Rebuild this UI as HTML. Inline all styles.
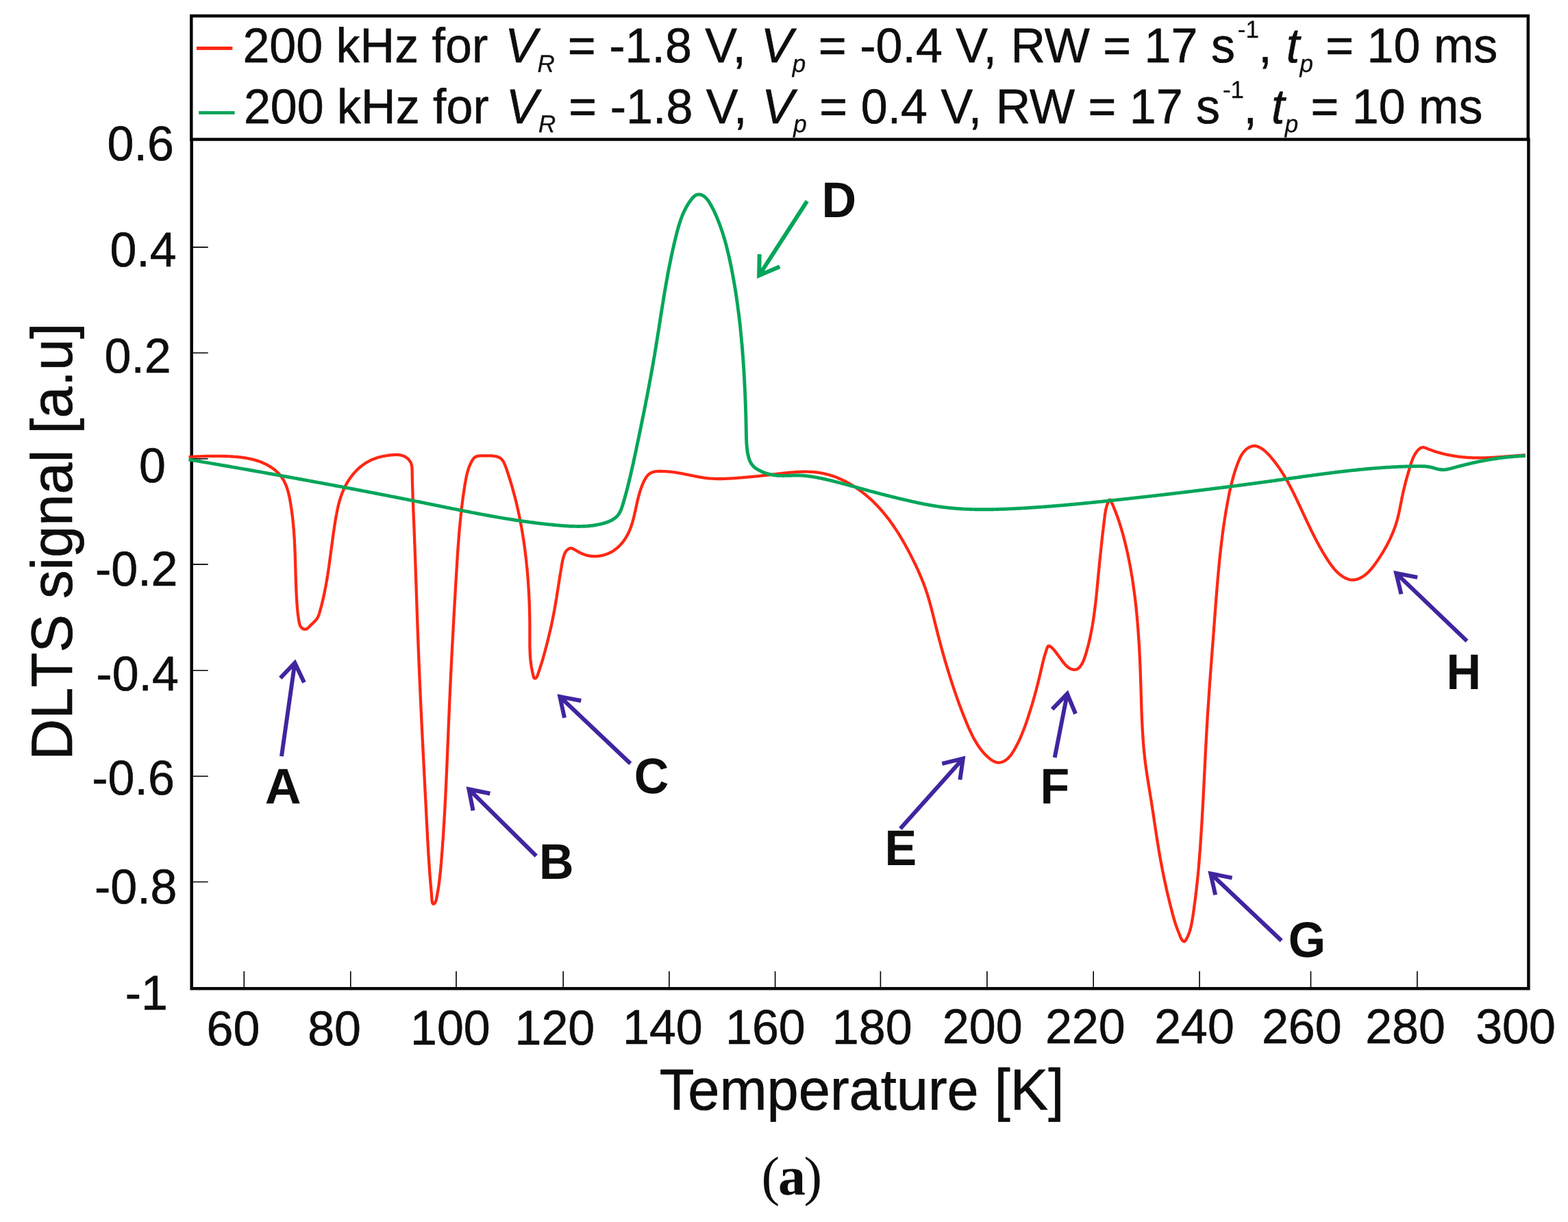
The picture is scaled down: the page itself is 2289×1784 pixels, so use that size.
<!DOCTYPE html>
<html lang="en"><head><meta charset="utf-8"><title>DLTS signal vs temperature</title>
<style>html,body{margin:0;padding:0;background:#fff}body{width:2289px;height:1784px;overflow:hidden}svg{display:block}text{font-kerning:normal;white-space:pre}</style></head><body>
<svg width="2289" height="1784" viewBox="0 0 2289 1784" font-family="'Liberation Sans', sans-serif" text-rendering="geometricPrecision">
<rect x="0" y="0" width="2289" height="1784" fill="#ffffff"/>
<path d="M356.3 1418.0V1443.2M511.8 1418.0V1443.2M666.0 1418.0V1443.2M822.2 1418.0V1443.2M976.9 1418.0V1443.2M1131.6 1418.0V1443.2M1285.4 1418.0V1443.2M1440.9 1418.0V1443.2M1596.2 1418.0V1443.2M1751.1 1418.0V1443.2M1913.5 1418.0V1443.2M2068.9 1418.0V1443.2M279.7 360.9H303.7M279.7 515.2H303.7M279.7 669.7H303.7M279.7 823.9H303.7M279.7 978.7H303.7M279.7 1133.3H303.7M279.7 1287.5H303.7" stroke="#000" stroke-width="1.6" fill="none"/>
<rect x="279.7" y="203.5" width="1951.7" height="1239.7" fill="none" stroke="#050505" stroke-width="4.5"/>
<path d="M279.3 203.5V23.3H2230.8V203.5" fill="none" stroke="#050505" stroke-width="4.5" stroke-linecap="square"/>
<path d="M275.6 667.1 L277.1 667.0 L278.6 666.9 L280.1 666.9 L281.6 666.8 L283.1 666.7 L284.6 666.6 L286.1 666.5 L287.6 666.5 L289.1 666.4 L290.6 666.3 L292.1 666.3 L293.6 666.2 L295.1 666.2 L296.6 666.1 L298.1 666.1 L299.6 666.0 L301.1 666.0 L302.6 665.9 L304.1 665.9 L305.6 665.9 L307.1 665.8 L308.6 665.8 L310.1 665.8 L311.6 665.8 L313.1 665.8 L314.6 665.8 L316.1 665.8 L317.6 665.8 L319.1 665.8 L320.5 665.8 L322.0 665.9 L323.5 665.9 L325.0 665.9 L326.5 666.0 L328.0 666.0 L329.5 666.0 L331.0 666.1 L332.5 666.2 L334.0 666.2 L335.5 666.3 L337.0 666.4 L338.5 666.5 L340.0 666.6 L341.5 666.7 L343.0 666.8 L344.5 666.9 L346.0 667.0 L347.5 667.2 L349.0 667.3 L350.5 667.5 L352.0 667.7 L353.5 667.9 L355.0 668.1 L356.5 668.3 L358.0 668.5 L359.4 668.7 L360.9 669.0 L362.4 669.3 L363.9 669.6 L365.3 669.9 L366.8 670.2 L368.3 670.6 L369.7 670.9 L371.2 671.3 L372.6 671.7 L374.0 672.1 L375.5 672.6 L376.9 673.1 L378.3 673.5 L379.7 674.1 L381.1 674.6 L382.5 675.2 L383.9 675.8 L385.3 676.4 L386.7 677.0 L388.0 677.7 L389.4 678.4 L390.7 679.1 L392.0 679.8 L393.3 680.6 L394.6 681.4 L395.9 682.2 L397.1 683.0 L398.4 683.9 L399.6 684.8 L400.8 685.7 L401.9 686.7 L403.0 687.6 L404.1 688.6 L405.2 689.7 L406.3 690.7 L407.3 691.8 L408.3 692.9 L409.2 694.0 L410.1 695.1 L411.0 696.3 L411.8 697.5 L412.6 698.7 L413.4 700.0 L414.1 701.3 L414.8 702.6 L415.5 703.9 L416.1 705.2 L416.7 706.6 L417.3 707.9 L417.9 709.3 L418.4 710.7 L418.9 712.1 L419.3 713.6 L419.8 715.0 L420.2 716.4 L420.6 717.9 L421.0 719.4 L421.4 720.9 L421.7 722.4 L422.1 723.8 L422.4 725.3 L422.7 726.9 L423.0 728.4 L423.3 729.9 L423.5 731.4 L423.8 732.9 L424.1 734.4 L424.3 735.9 L424.6 737.4 L424.8 738.9 L425.0 740.4 L425.3 741.9 L425.5 743.4 L425.7 744.9 L425.9 746.4 L426.1 747.9 L426.3 749.4 L426.5 750.9 L426.7 752.4 L426.9 753.8 L427.0 755.3 L427.2 756.8 L427.4 758.3 L427.5 759.8 L427.7 761.3 L427.8 762.7 L428.0 764.2 L428.1 765.7 L428.3 767.2 L428.4 768.7 L428.5 770.1 L428.6 771.6 L428.8 773.1 L428.9 774.6 L429.0 776.1 L429.1 777.5 L429.2 779.0 L429.3 780.5 L429.4 782.0 L429.5 783.5 L429.6 785.0 L429.7 786.4 L429.8 787.9 L429.9 789.4 L429.9 790.9 L430.0 792.4 L430.1 793.9 L430.2 795.4 L430.2 796.8 L430.3 798.3 L430.4 799.8 L430.4 801.3 L430.5 802.8 L430.6 804.3 L430.6 805.8 L430.7 807.3 L430.7 808.8 L430.8 810.3 L430.8 811.8 L430.9 813.3 L430.9 814.8 L431.0 816.3 L431.0 817.9 L431.1 819.4 L431.1 820.9 L431.2 822.4 L431.2 823.9 L431.2 825.4 L431.3 826.9 L431.3 828.4 L431.4 829.9 L431.4 831.4 L431.5 832.9 L431.5 834.5 L431.5 836.0 L431.6 837.5 L431.6 839.0 L431.7 840.5 L431.7 842.0 L431.8 843.5 L431.8 845.0 L431.9 846.5 L431.9 848.0 L432.0 849.5 L432.0 851.1 L432.1 852.6 L432.1 854.1 L432.2 855.6 L432.2 857.1 L432.3 858.6 L432.4 860.1 L432.4 861.6 L432.5 863.1 L432.6 864.6 L432.6 866.1 L432.7 867.5 L432.8 869.0 L432.9 870.5 L433.0 872.0 L433.0 873.5 L433.1 875.0 L433.2 876.5 L433.3 878.0 L433.4 879.4 L433.5 880.9 L433.6 882.4 L433.7 883.9 L433.8 885.3 L434.0 886.8 L434.1 888.3 L434.2 889.7 L434.4 891.2 L434.5 892.7 L434.7 894.2 L434.8 895.7 L435.0 897.2 L435.2 898.7 L435.4 900.2 L435.6 901.7 L435.8 903.2 L436.1 904.8 L436.3 906.3 L436.6 907.9 L436.9 909.4 L437.3 910.9 L437.7 912.4 L438.3 913.7 L439.0 915.0 L439.9 916.1 L440.9 917.1 L442.1 917.9 L443.4 918.4 L444.7 918.7 L446.0 918.7 L447.3 918.3 L448.5 917.6 L449.7 916.6 L450.9 915.5 L452.0 914.4 L453.1 913.2 L454.3 912.0 L455.4 910.9 L456.6 909.8 L457.7 908.8 L458.7 907.8 L459.8 906.7 L460.7 905.7 L461.7 904.6 L462.5 903.4 L463.3 902.2 L464.0 900.9 L464.6 899.6 L465.2 898.3 L465.7 896.9 L466.2 895.5 L466.6 894.0 L467.0 892.6 L467.4 891.1 L467.8 889.6 L468.2 888.2 L468.6 886.7 L469.0 885.2 L469.4 883.8 L469.8 882.3 L470.1 880.8 L470.5 879.4 L470.8 877.9 L471.2 876.4 L471.5 875.0 L471.9 873.5 L472.2 872.0 L472.5 870.5 L472.8 869.1 L473.1 867.6 L473.5 866.1 L473.8 864.7 L474.1 863.2 L474.3 861.7 L474.6 860.2 L474.9 858.8 L475.2 857.3 L475.5 855.8 L475.8 854.4 L476.0 852.9 L476.3 851.4 L476.5 849.9 L476.8 848.5 L477.1 847.0 L477.3 845.5 L477.6 844.0 L477.8 842.6 L478.0 841.1 L478.3 839.6 L478.5 838.1 L478.7 836.7 L479.0 835.2 L479.2 833.7 L479.4 832.2 L479.6 830.7 L479.8 829.3 L480.1 827.8 L480.3 826.3 L480.5 824.8 L480.7 823.3 L480.9 821.8 L481.1 820.4 L481.3 818.9 L481.5 817.4 L481.7 815.9 L481.9 814.4 L482.1 812.9 L482.3 811.5 L482.5 810.0 L482.7 808.5 L482.9 807.0 L483.1 805.5 L483.3 804.0 L483.5 802.5 L483.7 801.1 L483.9 799.6 L484.1 798.1 L484.3 796.6 L484.5 795.1 L484.7 793.6 L484.9 792.1 L485.1 790.7 L485.3 789.2 L485.5 787.7 L485.7 786.2 L485.9 784.7 L486.1 783.2 L486.3 781.7 L486.5 780.2 L486.7 778.8 L486.9 777.3 L487.1 775.8 L487.3 774.3 L487.6 772.8 L487.8 771.3 L488.0 769.8 L488.2 768.4 L488.5 766.9 L488.7 765.4 L488.9 763.9 L489.2 762.4 L489.4 760.9 L489.7 759.5 L489.9 758.0 L490.2 756.5 L490.4 755.0 L490.7 753.5 L491.0 752.0 L491.3 750.6 L491.5 749.1 L491.8 747.6 L492.1 746.1 L492.4 744.7 L492.7 743.2 L493.1 741.7 L493.4 740.2 L493.7 738.8 L494.1 737.3 L494.5 735.9 L494.8 734.4 L495.2 733.0 L495.6 731.5 L496.0 730.1 L496.5 728.7 L496.9 727.2 L497.4 725.8 L497.9 724.4 L498.3 723.0 L498.9 721.6 L499.4 720.2 L499.9 718.8 L500.5 717.4 L501.1 716.0 L501.7 714.7 L502.3 713.3 L502.9 711.9 L503.6 710.6 L504.3 709.3 L505.0 707.9 L505.7 706.6 L506.4 705.3 L507.2 704.0 L508.0 702.7 L508.8 701.4 L509.6 700.2 L510.5 698.9 L511.3 697.7 L512.2 696.5 L513.1 695.3 L514.1 694.1 L515.0 692.9 L516.0 691.8 L516.9 690.6 L517.9 689.5 L519.0 688.4 L520.0 687.3 L521.0 686.3 L522.1 685.2 L523.2 684.2 L524.3 683.2 L525.4 682.2 L526.6 681.3 L527.8 680.3 L528.9 679.4 L530.1 678.5 L531.3 677.7 L532.6 676.8 L533.8 676.0 L535.1 675.2 L536.4 674.5 L537.6 673.8 L539.0 673.1 L540.3 672.4 L541.6 671.7 L543.0 671.1 L544.4 670.5 L545.8 670.0 L547.2 669.5 L548.6 669.0 L550.0 668.5 L551.4 668.0 L552.9 667.6 L554.4 667.2 L555.8 666.9 L557.3 666.5 L558.8 666.2 L560.3 665.9 L561.8 665.6 L563.3 665.4 L564.8 665.1 L566.3 664.9 L567.8 664.7 L569.3 664.5 L570.8 664.4 L572.3 664.2 L573.8 664.1 L575.3 664.0 L576.8 663.9 L578.3 663.9 L579.8 663.9 L581.3 664.0 L582.7 664.2 L584.2 664.4 L585.6 664.7 L587.0 665.0 L588.4 665.5 L589.7 666.0 L591.0 666.7 L592.3 667.4 L593.6 668.3 L594.8 669.2 L596.0 670.3 L597.1 671.4 L598.0 672.7 L598.9 673.9 L599.6 675.2 L600.2 676.6 L600.6 678.0 L601.0 679.4 L601.2 680.9 L601.4 682.3 L601.5 683.8 L601.6 685.3 L601.6 686.8 L601.7 688.3 L601.7 689.8 L601.7 691.3 L601.7 692.8 L601.8 694.3 L601.8 695.8 L601.8 697.3 L601.9 698.9 L601.9 700.4 L601.9 701.9 L602.0 703.4 L602.0 704.9 L602.0 706.4 L602.1 707.9 L602.1 709.4 L602.2 710.9 L602.2 712.4 L602.3 713.9 L602.3 715.4 L602.4 716.9 L602.4 718.4 L602.5 719.9 L602.5 721.4 L602.6 722.9 L602.6 724.4 L602.7 725.9 L602.7 727.4 L602.8 728.9 L602.8 730.4 L602.9 731.9 L603.0 733.4 L603.0 734.9 L603.1 736.4 L603.1 737.9 L603.2 739.4 L603.3 740.9 L603.3 742.4 L603.4 743.9 L603.4 745.4 L603.5 746.9 L603.6 748.4 L603.6 749.9 L603.7 751.4 L603.8 752.8 L603.8 754.3 L603.9 755.8 L603.9 757.3 L604.0 758.8 L604.1 760.3 L604.1 761.8 L604.2 763.3 L604.2 764.8 L604.3 766.3 L604.4 767.8 L604.4 769.3 L604.5 770.8 L604.5 772.3 L604.6 773.8 L604.7 775.3 L604.7 776.8 L604.8 778.3 L604.8 779.8 L604.9 781.3 L605.0 782.8 L605.0 784.3 L605.1 785.8 L605.1 787.3 L605.2 788.8 L605.2 790.3 L605.3 791.8 L605.3 793.3 L605.4 794.8 L605.5 796.3 L605.5 797.8 L605.6 799.3 L605.6 800.8 L605.7 802.3 L605.7 803.8 L605.8 805.3 L605.8 806.8 L605.9 808.3 L605.9 809.8 L606.0 811.3 L606.1 812.8 L606.1 814.3 L606.2 815.8 L606.2 817.3 L606.3 818.8 L606.3 820.3 L606.4 821.8 L606.4 823.3 L606.5 824.8 L606.5 826.3 L606.6 827.8 L606.6 829.3 L606.7 830.8 L606.7 832.3 L606.8 833.8 L606.8 835.3 L606.9 836.8 L606.9 838.3 L607.0 839.8 L607.0 841.3 L607.1 842.8 L607.1 844.3 L607.2 845.8 L607.2 847.3 L607.3 848.8 L607.3 850.3 L607.4 851.8 L607.5 853.3 L607.5 854.8 L607.6 856.3 L607.6 857.8 L607.7 859.3 L607.7 860.8 L607.8 862.3 L607.8 863.8 L607.9 865.3 L607.9 866.8 L608.0 868.3 L608.0 869.8 L608.1 871.3 L608.1 872.8 L608.2 874.3 L608.2 875.8 L608.3 877.3 L608.3 878.8 L608.4 880.3 L608.4 881.8 L608.5 883.3 L608.5 884.8 L608.6 886.3 L608.6 887.8 L608.7 889.3 L608.7 890.8 L608.8 892.3 L608.8 893.8 L608.9 895.3 L608.9 896.8 L609.0 898.3 L609.0 899.8 L609.1 901.3 L609.1 902.8 L609.2 904.3 L609.3 905.8 L609.3 907.3 L609.4 908.8 L609.4 910.3 L609.5 911.7 L609.5 913.2 L609.6 914.7 L609.6 916.2 L609.7 917.7 L609.7 919.2 L609.8 920.7 L609.8 922.2 L609.9 923.7 L610.0 925.2 L610.0 926.7 L610.1 928.2 L610.1 929.7 L610.2 931.2 L610.2 932.7 L610.3 934.2 L610.3 935.7 L610.4 937.2 L610.5 938.7 L610.5 940.2 L610.6 941.7 L610.6 943.2 L610.7 944.7 L610.7 946.2 L610.8 947.7 L610.9 949.2 L610.9 950.7 L611.0 952.2 L611.0 953.7 L611.1 955.2 L611.2 956.7 L611.2 958.2 L611.3 959.7 L611.3 961.2 L611.4 962.7 L611.5 964.2 L611.5 965.7 L611.6 967.2 L611.6 968.7 L611.7 970.2 L611.8 971.7 L611.8 973.2 L611.9 974.7 L612.0 976.2 L612.0 977.7 L612.1 979.2 L612.2 980.7 L612.2 982.2 L612.3 983.7 L612.3 985.2 L612.4 986.7 L612.5 988.2 L612.5 989.7 L612.6 991.2 L612.7 992.7 L612.7 994.2 L612.8 995.7 L612.9 997.2 L612.9 998.7 L613.0 1000.2 L613.1 1001.7 L613.1 1003.2 L613.2 1004.7 L613.3 1006.2 L613.3 1007.7 L613.4 1009.2 L613.5 1010.7 L613.5 1012.2 L613.6 1013.6 L613.7 1015.1 L613.7 1016.6 L613.8 1018.1 L613.9 1019.6 L613.9 1021.1 L614.0 1022.6 L614.1 1024.1 L614.2 1025.6 L614.2 1027.1 L614.3 1028.6 L614.4 1030.1 L614.4 1031.6 L614.5 1033.1 L614.6 1034.6 L614.6 1036.1 L614.7 1037.6 L614.8 1039.1 L614.9 1040.6 L614.9 1042.1 L615.0 1043.6 L615.1 1045.1 L615.1 1046.6 L615.2 1048.1 L615.3 1049.6 L615.4 1051.1 L615.4 1052.6 L615.5 1054.1 L615.6 1055.6 L615.7 1057.1 L615.7 1058.6 L615.8 1060.1 L615.9 1061.6 L615.9 1063.1 L616.0 1064.6 L616.1 1066.1 L616.2 1067.6 L616.2 1069.1 L616.3 1070.6 L616.4 1072.1 L616.5 1073.5 L616.5 1075.0 L616.6 1076.5 L616.7 1078.0 L616.8 1079.5 L616.8 1081.0 L616.9 1082.5 L617.0 1084.0 L617.1 1085.5 L617.1 1087.0 L617.2 1088.5 L617.3 1090.0 L617.4 1091.5 L617.4 1093.0 L617.5 1094.5 L617.6 1096.0 L617.7 1097.5 L617.7 1099.0 L617.8 1100.5 L617.9 1102.0 L618.0 1103.5 L618.0 1105.0 L618.1 1106.5 L618.2 1108.0 L618.3 1109.5 L618.3 1111.0 L618.4 1112.5 L618.5 1114.0 L618.6 1115.5 L618.7 1117.0 L618.7 1118.5 L618.8 1120.0 L618.9 1121.5 L619.0 1123.0 L619.0 1124.5 L619.1 1126.0 L619.2 1127.5 L619.3 1129.0 L619.3 1130.5 L619.4 1132.0 L619.5 1133.5 L619.6 1135.0 L619.7 1136.5 L619.7 1138.0 L619.8 1139.5 L619.9 1141.0 L620.0 1142.5 L620.0 1144.0 L620.1 1145.5 L620.2 1147.0 L620.3 1148.5 L620.3 1150.0 L620.4 1151.5 L620.5 1153.0 L620.6 1154.5 L620.7 1156.0 L620.7 1157.4 L620.8 1158.9 L620.9 1160.4 L621.0 1161.9 L621.0 1163.4 L621.1 1164.9 L621.2 1166.4 L621.3 1167.9 L621.4 1169.4 L621.4 1170.9 L621.5 1172.4 L621.6 1173.9 L621.7 1175.4 L621.7 1176.9 L621.8 1178.4 L621.9 1179.9 L622.0 1181.4 L622.1 1182.9 L622.1 1184.4 L622.2 1185.9 L622.3 1187.4 L622.4 1188.9 L622.4 1190.4 L622.5 1191.9 L622.6 1193.4 L622.7 1194.9 L622.7 1196.4 L622.8 1197.9 L622.9 1199.4 L623.0 1200.9 L623.1 1202.4 L623.1 1203.9 L623.2 1205.5 L623.3 1207.0 L623.4 1208.5 L623.4 1210.0 L623.5 1211.5 L623.6 1213.0 L623.7 1214.5 L623.8 1216.0 L623.8 1217.5 L623.9 1219.0 L624.0 1220.5 L624.1 1222.0 L624.1 1223.5 L624.2 1225.0 L624.3 1226.5 L624.4 1228.0 L624.5 1229.5 L624.6 1231.0 L624.6 1232.4 L624.7 1233.9 L624.8 1235.4 L624.9 1236.9 L625.0 1238.4 L625.1 1239.9 L625.2 1241.4 L625.2 1242.9 L625.3 1244.4 L625.4 1245.9 L625.5 1247.4 L625.6 1248.9 L625.7 1250.4 L625.8 1251.9 L625.9 1253.4 L626.0 1254.9 L626.1 1256.4 L626.2 1257.9 L626.3 1259.4 L626.4 1260.8 L626.5 1262.3 L626.6 1263.8 L626.7 1265.3 L626.8 1266.8 L626.9 1268.3 L627.0 1269.8 L627.1 1271.3 L627.2 1272.7 L627.3 1274.2 L627.4 1275.7 L627.5 1277.2 L627.7 1278.7 L627.8 1280.2 L627.9 1281.6 L628.0 1283.1 L628.1 1284.6 L628.3 1286.1 L628.4 1287.5 L628.5 1289.0 L628.6 1290.5 L628.8 1292.0 L628.9 1293.5 L629.0 1294.9 L629.2 1296.4 L629.3 1297.9 L629.4 1299.4 L629.5 1301.0 L629.7 1302.5 L629.8 1304.0 L629.9 1305.6 L630.1 1307.2 L630.2 1308.8 L630.3 1310.4 L630.4 1312.0 L630.5 1313.7 L630.7 1315.3 L630.9 1316.8 L631.3 1318.1 L631.9 1319.1 L632.7 1319.7 L633.6 1319.4 L634.5 1318.7 L635.2 1317.7 L635.8 1316.5 L636.3 1315.2 L636.7 1313.8 L637.1 1312.3 L637.4 1310.8 L637.7 1309.3 L638.0 1307.7 L638.3 1306.2 L638.5 1304.7 L638.8 1303.2 L639.1 1301.7 L639.3 1300.2 L639.6 1298.6 L639.8 1297.1 L640.0 1295.6 L640.3 1294.1 L640.5 1292.6 L640.7 1291.1 L640.9 1289.6 L641.1 1288.1 L641.3 1286.6 L641.5 1285.1 L641.7 1283.6 L641.8 1282.1 L642.0 1280.6 L642.2 1279.1 L642.3 1277.6 L642.5 1276.1 L642.7 1274.6 L642.8 1273.1 L643.0 1271.6 L643.1 1270.1 L643.3 1268.6 L643.4 1267.2 L643.5 1265.7 L643.7 1264.2 L643.8 1262.7 L643.9 1261.2 L644.1 1259.7 L644.2 1258.2 L644.3 1256.7 L644.4 1255.2 L644.5 1253.7 L644.7 1252.3 L644.8 1250.8 L644.9 1249.3 L645.0 1247.8 L645.1 1246.3 L645.2 1244.8 L645.4 1243.3 L645.5 1241.8 L645.6 1240.3 L645.7 1238.8 L645.8 1237.3 L645.9 1235.9 L646.0 1234.4 L646.1 1232.9 L646.2 1231.4 L646.3 1229.9 L646.4 1228.4 L646.6 1226.9 L646.7 1225.4 L646.8 1223.9 L646.9 1222.4 L647.0 1220.9 L647.1 1219.4 L647.2 1217.9 L647.3 1216.4 L647.4 1215.0 L647.4 1213.5 L647.5 1212.0 L647.6 1210.5 L647.7 1209.0 L647.8 1207.5 L647.9 1206.0 L648.0 1204.5 L648.1 1203.0 L648.2 1201.5 L648.3 1200.0 L648.4 1198.5 L648.5 1197.0 L648.5 1195.5 L648.6 1194.0 L648.7 1192.5 L648.8 1191.0 L648.9 1189.5 L649.0 1188.0 L649.1 1186.6 L649.1 1185.1 L649.2 1183.6 L649.3 1182.1 L649.4 1180.6 L649.5 1179.1 L649.6 1177.6 L649.6 1176.1 L649.7 1174.6 L649.8 1173.1 L649.9 1171.6 L649.9 1170.1 L650.0 1168.6 L650.1 1167.1 L650.2 1165.6 L650.3 1164.1 L650.3 1162.6 L650.4 1161.1 L650.5 1159.6 L650.6 1158.1 L650.6 1156.6 L650.7 1155.1 L650.8 1153.6 L650.8 1152.1 L650.9 1150.6 L651.0 1149.1 L651.1 1147.6 L651.1 1146.1 L651.2 1144.6 L651.3 1143.1 L651.3 1141.6 L651.4 1140.1 L651.5 1138.6 L651.5 1137.1 L651.6 1135.6 L651.7 1134.1 L651.7 1132.6 L651.8 1131.1 L651.9 1129.6 L651.9 1128.1 L652.0 1126.6 L652.1 1125.1 L652.1 1123.6 L652.2 1122.1 L652.3 1120.6 L652.3 1119.1 L652.4 1117.6 L652.5 1116.1 L652.5 1114.6 L652.6 1113.1 L652.7 1111.6 L652.7 1110.1 L652.8 1108.6 L652.8 1107.1 L652.9 1105.6 L653.0 1104.1 L653.0 1102.6 L653.1 1101.1 L653.2 1099.6 L653.2 1098.1 L653.3 1096.6 L653.3 1095.1 L653.4 1093.6 L653.5 1092.1 L653.5 1090.6 L653.6 1089.1 L653.7 1087.6 L653.7 1086.1 L653.8 1084.6 L653.8 1083.1 L653.9 1081.6 L654.0 1080.1 L654.0 1078.6 L654.1 1077.1 L654.1 1075.6 L654.2 1074.1 L654.3 1072.6 L654.3 1071.1 L654.4 1069.6 L654.5 1068.1 L654.5 1066.6 L654.6 1065.1 L654.6 1063.6 L654.7 1062.1 L654.8 1060.6 L654.8 1059.1 L654.9 1057.6 L654.9 1056.1 L655.0 1054.6 L655.1 1053.1 L655.1 1051.6 L655.2 1050.1 L655.3 1048.6 L655.3 1047.1 L655.4 1045.6 L655.5 1044.1 L655.5 1042.6 L655.6 1041.1 L655.6 1039.6 L655.7 1038.1 L655.8 1036.6 L655.8 1035.1 L655.9 1033.6 L656.0 1032.2 L656.0 1030.7 L656.1 1029.2 L656.2 1027.7 L656.2 1026.2 L656.3 1024.7 L656.4 1023.2 L656.4 1021.7 L656.5 1020.2 L656.6 1018.7 L656.6 1017.2 L656.7 1015.7 L656.8 1014.2 L656.8 1012.7 L656.9 1011.2 L657.0 1009.7 L657.0 1008.2 L657.1 1006.7 L657.2 1005.2 L657.2 1003.7 L657.3 1002.2 L657.4 1000.7 L657.5 999.2 L657.5 997.7 L657.6 996.2 L657.7 994.7 L657.7 993.2 L657.8 991.7 L657.9 990.2 L658.0 988.7 L658.0 987.2 L658.1 985.7 L658.2 984.2 L658.2 982.7 L658.3 981.2 L658.4 979.7 L658.5 978.2 L658.5 976.7 L658.6 975.2 L658.7 973.7 L658.8 972.2 L658.8 970.7 L658.9 969.2 L659.0 967.7 L659.1 966.2 L659.1 964.7 L659.2 963.2 L659.3 961.7 L659.4 960.2 L659.4 958.7 L659.5 957.2 L659.6 955.7 L659.7 954.2 L659.7 952.7 L659.8 951.2 L659.9 949.7 L660.0 948.2 L660.1 946.7 L660.1 945.2 L660.2 943.7 L660.3 942.2 L660.4 940.7 L660.5 939.3 L660.5 937.8 L660.6 936.3 L660.7 934.8 L660.8 933.3 L660.8 931.8 L660.9 930.3 L661.0 928.8 L661.1 927.3 L661.2 925.8 L661.3 924.3 L661.3 922.8 L661.4 921.3 L661.5 919.8 L661.6 918.3 L661.7 916.8 L661.7 915.3 L661.8 913.8 L661.9 912.3 L662.0 910.8 L662.1 909.3 L662.2 907.8 L662.2 906.3 L662.3 904.8 L662.4 903.3 L662.5 901.8 L662.6 900.3 L662.7 898.8 L662.7 897.3 L662.8 895.8 L662.9 894.3 L663.0 892.8 L663.1 891.3 L663.2 889.8 L663.2 888.3 L663.3 886.9 L663.4 885.4 L663.5 883.9 L663.6 882.4 L663.7 880.9 L663.8 879.4 L663.8 877.9 L663.9 876.4 L664.0 874.9 L664.1 873.4 L664.2 871.9 L664.3 870.4 L664.4 868.9 L664.5 867.4 L664.5 865.9 L664.6 864.4 L664.7 862.9 L664.8 861.4 L664.9 859.9 L665.0 858.4 L665.1 856.9 L665.2 855.4 L665.2 853.9 L665.3 852.4 L665.4 850.9 L665.5 849.4 L665.6 847.9 L665.7 846.4 L665.8 844.9 L665.9 843.4 L666.0 841.9 L666.1 840.5 L666.1 839.0 L666.2 837.5 L666.3 836.0 L666.4 834.5 L666.5 833.0 L666.6 831.5 L666.7 830.0 L666.8 828.5 L666.9 827.0 L667.0 825.5 L667.1 824.0 L667.2 822.5 L667.2 821.0 L667.3 819.5 L667.4 818.0 L667.5 816.5 L667.6 815.0 L667.7 813.5 L667.8 812.0 L667.9 810.5 L668.0 809.0 L668.1 807.5 L668.2 806.0 L668.3 804.5 L668.4 803.0 L668.5 801.5 L668.6 800.1 L668.7 798.6 L668.8 797.1 L669.0 795.6 L669.1 794.1 L669.2 792.6 L669.3 791.1 L669.4 789.6 L669.5 788.1 L669.6 786.6 L669.7 785.1 L669.9 783.6 L670.0 782.1 L670.1 780.6 L670.2 779.1 L670.3 777.6 L670.5 776.1 L670.6 774.6 L670.7 773.1 L670.9 771.6 L671.0 770.2 L671.1 768.7 L671.3 767.2 L671.4 765.7 L671.5 764.2 L671.7 762.7 L671.8 761.2 L672.0 759.7 L672.1 758.2 L672.3 756.7 L672.4 755.2 L672.6 753.7 L672.7 752.2 L672.9 750.7 L673.1 749.2 L673.2 747.8 L673.4 746.3 L673.6 744.8 L673.7 743.3 L673.9 741.8 L674.1 740.3 L674.3 738.8 L674.5 737.3 L674.6 735.8 L674.8 734.3 L675.0 732.8 L675.2 731.4 L675.4 729.9 L675.6 728.4 L675.8 726.9 L676.0 725.4 L676.2 723.9 L676.4 722.4 L676.6 720.9 L676.9 719.4 L677.1 717.9 L677.3 716.5 L677.5 715.0 L677.8 713.5 L678.0 712.0 L678.2 710.5 L678.5 709.0 L678.7 707.5 L679.0 706.0 L679.2 704.6 L679.5 703.1 L679.7 701.6 L680.0 700.1 L680.3 698.6 L680.6 697.2 L680.9 695.7 L681.2 694.2 L681.5 692.8 L681.9 691.3 L682.3 689.9 L682.7 688.4 L683.1 687.0 L683.5 685.6 L684.0 684.2 L684.5 682.8 L685.0 681.4 L685.5 680.0 L686.1 678.6 L686.7 677.3 L687.4 676.0 L688.0 674.6 L688.7 673.3 L689.5 672.0 L690.3 670.8 L691.2 669.6 L692.1 668.5 L693.2 667.6 L694.5 666.8 L695.8 666.3 L697.3 665.9 L698.9 665.6 L700.5 665.5 L702.2 665.4 L703.8 665.3 L705.4 665.3 L706.9 665.3 L708.3 665.3 L709.7 665.3 L711.1 665.3 L712.5 665.3 L713.9 665.3 L715.4 665.4 L716.8 665.4 L718.4 665.5 L719.9 665.7 L721.5 665.8 L723.1 666.1 L724.7 666.4 L726.2 666.8 L727.6 667.3 L728.9 668.0 L730.1 668.7 L731.2 669.5 L732.3 670.5 L733.2 671.5 L734.0 672.7 L734.8 673.8 L735.5 675.1 L736.1 676.4 L736.7 677.7 L737.3 679.1 L737.8 680.5 L738.4 682.0 L738.9 683.4 L739.4 684.9 L739.9 686.3 L740.4 687.7 L740.8 689.2 L741.3 690.6 L741.8 692.1 L742.3 693.5 L742.7 694.9 L743.2 696.4 L743.7 697.8 L744.1 699.3 L744.6 700.7 L745.0 702.2 L745.5 703.6 L745.9 705.1 L746.3 706.5 L746.8 708.0 L747.2 709.4 L747.6 710.9 L748.0 712.3 L748.4 713.8 L748.8 715.2 L749.2 716.7 L749.6 718.1 L750.0 719.6 L750.4 721.0 L750.8 722.5 L751.2 723.9 L751.6 725.4 L752.0 726.9 L752.3 728.3 L752.7 729.8 L753.1 731.2 L753.4 732.7 L753.8 734.1 L754.1 735.6 L754.5 737.1 L754.8 738.5 L755.1 740.0 L755.5 741.4 L755.8 742.9 L756.1 744.4 L756.5 745.8 L756.8 747.3 L757.1 748.8 L757.4 750.2 L757.7 751.7 L758.0 753.2 L758.3 754.6 L758.6 756.1 L758.9 757.6 L759.2 759.0 L759.5 760.5 L759.8 762.0 L760.1 763.4 L760.3 764.9 L760.6 766.4 L760.9 767.8 L761.2 769.3 L761.4 770.8 L761.7 772.3 L761.9 773.7 L762.2 775.2 L762.4 776.7 L762.7 778.2 L762.9 779.6 L763.2 781.1 L763.4 782.6 L763.6 784.1 L763.9 785.6 L764.1 787.0 L764.3 788.5 L764.5 790.0 L764.8 791.5 L765.0 793.0 L765.2 794.4 L765.4 795.9 L765.6 797.4 L765.8 798.9 L766.0 800.4 L766.2 801.8 L766.4 803.3 L766.6 804.8 L766.8 806.3 L767.0 807.8 L767.2 809.3 L767.3 810.8 L767.5 812.3 L767.7 813.7 L767.9 815.2 L768.0 816.7 L768.2 818.2 L768.4 819.7 L768.5 821.2 L768.7 822.7 L768.8 824.2 L769.0 825.7 L769.1 827.2 L769.3 828.6 L769.4 830.1 L769.6 831.6 L769.7 833.1 L769.8 834.6 L770.0 836.1 L770.1 837.6 L770.2 839.1 L770.3 840.6 L770.5 842.1 L770.6 843.6 L770.7 845.1 L770.8 846.6 L770.9 848.1 L771.0 849.6 L771.1 851.1 L771.2 852.6 L771.3 854.1 L771.4 855.6 L771.5 857.1 L771.6 858.6 L771.7 860.1 L771.8 861.6 L771.9 863.1 L772.0 864.6 L772.1 866.1 L772.1 867.6 L772.2 869.1 L772.3 870.6 L772.4 872.1 L772.4 873.6 L772.5 875.1 L772.6 876.6 L772.6 878.1 L772.7 879.6 L772.7 881.1 L772.8 882.6 L772.8 884.1 L772.9 885.6 L772.9 887.1 L773.0 888.6 L773.0 890.1 L773.1 891.6 L773.1 893.1 L773.1 894.6 L773.2 896.1 L773.2 897.6 L773.2 899.1 L773.3 900.6 L773.3 902.1 L773.3 903.6 L773.3 905.1 L773.3 906.6 L773.4 908.1 L773.4 909.6 L773.4 911.1 L773.4 912.6 L773.4 914.1 L773.4 915.6 L773.4 917.1 L773.4 918.6 L773.4 920.1 L773.4 921.6 L773.4 923.1 L773.4 924.6 L773.4 926.1 L773.4 927.6 L773.4 929.1 L773.4 930.6 L773.4 932.1 L773.4 933.6 L773.4 935.1 L773.4 936.6 L773.4 938.1 L773.4 939.6 L773.4 941.1 L773.4 942.6 L773.4 944.1 L773.5 945.6 L773.5 947.1 L773.6 948.6 L773.6 950.1 L773.7 951.5 L773.7 953.0 L773.8 954.5 L773.9 956.0 L774.0 957.5 L774.1 959.0 L774.2 960.5 L774.3 962.0 L774.5 963.5 L774.6 964.9 L774.8 966.4 L775.0 967.9 L775.2 969.4 L775.4 970.9 L775.6 972.4 L775.8 973.8 L776.1 975.3 L776.4 976.8 L776.7 978.3 L777.0 979.8 L777.3 981.3 L777.6 982.8 L778.0 984.3 L778.3 985.9 L778.7 987.5 L779.2 989.0 L779.9 990.1 L780.8 990.4 L781.9 990.1 L782.9 989.3 L783.7 988.1 L784.3 986.8 L784.9 985.3 L785.4 983.9 L785.9 982.4 L786.4 981.0 L786.9 979.5 L787.4 978.1 L787.9 976.6 L788.3 975.2 L788.8 973.8 L789.3 972.3 L789.7 970.9 L790.2 969.4 L790.6 968.0 L791.1 966.6 L791.5 965.1 L791.9 963.7 L792.4 962.2 L792.8 960.8 L793.2 959.4 L793.6 957.9 L794.0 956.5 L794.4 955.1 L794.8 953.6 L795.2 952.2 L795.6 950.7 L796.0 949.3 L796.3 947.9 L796.7 946.4 L797.1 945.0 L797.5 943.5 L797.9 942.1 L798.2 940.6 L798.6 939.2 L799.0 937.7 L799.3 936.3 L799.7 934.8 L800.1 933.4 L800.4 931.9 L800.8 930.5 L801.1 929.0 L801.5 927.5 L801.8 926.1 L802.2 924.6 L802.5 923.1 L802.9 921.7 L803.2 920.2 L803.6 918.8 L803.9 917.3 L804.2 915.8 L804.5 914.4 L804.9 912.9 L805.2 911.4 L805.5 910.0 L805.8 908.5 L806.1 907.0 L806.4 905.5 L806.7 904.1 L807.0 902.6 L807.3 901.1 L807.6 899.7 L807.9 898.2 L808.2 896.7 L808.5 895.2 L808.8 893.8 L809.0 892.3 L809.3 890.8 L809.6 889.3 L809.8 887.9 L810.1 886.4 L810.3 884.9 L810.6 883.4 L810.9 882.0 L811.1 880.5 L811.4 879.0 L811.6 877.5 L811.8 876.0 L812.1 874.6 L812.3 873.1 L812.6 871.6 L812.8 870.1 L813.0 868.7 L813.3 867.2 L813.5 865.7 L813.7 864.2 L814.0 862.7 L814.2 861.3 L814.4 859.8 L814.7 858.3 L814.9 856.8 L815.1 855.3 L815.4 853.9 L815.6 852.4 L815.8 850.9 L816.1 849.4 L816.3 847.9 L816.5 846.4 L816.8 845.0 L817.0 843.5 L817.2 842.0 L817.5 840.5 L817.7 839.0 L817.9 837.5 L818.2 836.1 L818.4 834.6 L818.7 833.1 L818.9 831.6 L819.2 830.1 L819.4 828.6 L819.7 827.2 L819.9 825.7 L820.2 824.2 L820.5 822.7 L820.7 821.2 L821.0 819.8 L821.3 818.3 L821.7 816.8 L822.0 815.4 L822.4 813.9 L822.8 812.5 L823.3 811.1 L823.8 809.7 L824.3 808.3 L824.9 807.0 L825.6 805.7 L826.5 804.5 L827.5 803.3 L828.7 802.3 L830.0 801.4 L831.4 800.7 L832.9 800.4 L834.3 800.4 L835.7 800.8 L837.0 801.4 L838.3 802.1 L839.6 802.8 L841.0 803.6 L842.3 804.3 L843.6 805.1 L844.9 805.8 L846.2 806.6 L847.5 807.2 L848.8 807.9 L850.2 808.5 L851.5 809.1 L852.9 809.6 L854.3 810.1 L855.7 810.5 L857.2 810.9 L858.6 811.2 L860.1 811.5 L861.6 811.7 L863.0 811.9 L864.5 812.0 L866.0 812.1 L867.5 812.2 L869.0 812.1 L870.5 812.1 L872.0 812.0 L873.5 811.8 L875.0 811.6 L876.5 811.4 L878.0 811.1 L879.5 810.8 L881.0 810.4 L882.4 810.0 L883.9 809.6 L885.3 809.1 L886.7 808.5 L888.1 808.0 L889.5 807.4 L890.8 806.7 L892.2 806.0 L893.5 805.3 L894.8 804.5 L896.0 803.7 L897.2 802.8 L898.4 801.9 L899.6 801.0 L900.8 800.1 L901.9 799.1 L903.0 798.1 L904.1 797.0 L905.1 796.0 L906.2 794.9 L907.2 793.8 L908.1 792.6 L909.1 791.5 L910.0 790.3 L910.9 789.1 L911.8 787.8 L912.6 786.6 L913.4 785.3 L914.2 784.0 L914.9 782.7 L915.7 781.4 L916.4 780.1 L917.0 778.8 L917.7 777.4 L918.3 776.1 L918.9 774.7 L919.5 773.3 L920.1 771.9 L920.6 770.6 L921.1 769.2 L921.6 767.7 L922.1 766.3 L922.5 764.9 L923.0 763.5 L923.4 762.0 L923.8 760.6 L924.2 759.2 L924.6 757.7 L925.0 756.3 L925.3 754.8 L925.7 753.3 L926.0 751.9 L926.4 750.4 L926.7 748.9 L927.0 747.5 L927.4 746.0 L927.7 744.5 L928.0 743.1 L928.3 741.6 L928.6 740.1 L929.0 738.6 L929.3 737.2 L929.6 735.7 L929.9 734.2 L930.3 732.8 L930.6 731.3 L930.9 729.9 L931.3 728.4 L931.7 727.0 L932.0 725.5 L932.4 724.1 L932.8 722.6 L933.2 721.2 L933.6 719.8 L934.0 718.3 L934.5 716.9 L934.9 715.5 L935.4 714.1 L935.9 712.6 L936.4 711.2 L936.9 709.8 L937.5 708.4 L938.1 707.0 L938.7 705.6 L939.3 704.2 L939.9 702.8 L940.6 701.4 L941.3 700.1 L942.1 698.8 L942.8 697.5 L943.7 696.3 L944.6 695.2 L945.5 694.1 L946.5 693.1 L947.6 692.1 L948.7 691.3 L949.9 690.5 L951.1 689.9 L952.5 689.4 L953.9 688.9 L955.4 688.6 L956.9 688.4 L958.4 688.2 L960.0 688.1 L961.6 688.0 L963.2 688.0 L964.8 688.0 L966.4 688.0 L967.9 688.1 L969.5 688.1 L971.0 688.2 L972.5 688.3 L974.0 688.4 L975.5 688.5 L977.0 688.6 L978.5 688.8 L979.9 688.9 L981.4 689.1 L982.8 689.3 L984.3 689.4 L985.7 689.6 L987.2 689.9 L988.6 690.1 L990.1 690.3 L991.6 690.6 L993.0 690.9 L994.5 691.1 L995.9 691.4 L997.4 691.7 L998.8 692.0 L1000.3 692.3 L1001.8 692.6 L1003.2 692.9 L1004.7 693.2 L1006.2 693.5 L1007.6 693.8 L1009.1 694.1 L1010.6 694.4 L1012.1 694.7 L1013.5 695.0 L1015.0 695.3 L1016.5 695.6 L1018.0 695.9 L1019.4 696.2 L1020.9 696.5 L1022.4 696.7 L1023.9 697.0 L1025.4 697.2 L1026.9 697.4 L1028.4 697.6 L1029.8 697.8 L1031.3 698.0 L1032.8 698.2 L1034.3 698.3 L1035.8 698.4 L1037.3 698.6 L1038.8 698.7 L1040.3 698.7 L1041.8 698.8 L1043.3 698.9 L1044.9 698.9 L1046.4 699.0 L1047.9 699.0 L1049.4 699.0 L1050.9 699.0 L1052.4 699.0 L1053.9 699.0 L1055.4 698.9 L1056.9 698.9 L1058.4 698.8 L1059.9 698.8 L1061.4 698.7 L1062.9 698.6 L1064.4 698.6 L1066.0 698.5 L1067.5 698.4 L1069.0 698.3 L1070.5 698.2 L1072.0 698.1 L1073.5 698.0 L1075.0 697.9 L1076.5 697.8 L1077.9 697.6 L1079.4 697.5 L1080.9 697.4 L1082.4 697.3 L1083.9 697.2 L1085.4 697.0 L1086.9 696.9 L1088.3 696.8 L1089.8 696.7 L1091.3 696.5 L1092.8 696.4 L1094.3 696.3 L1095.7 696.1 L1097.2 696.0 L1098.7 695.9 L1100.2 695.7 L1101.6 695.6 L1103.1 695.4 L1104.6 695.3 L1106.1 695.2 L1107.5 695.0 L1109.0 694.9 L1110.5 694.7 L1112.0 694.5 L1113.5 694.4 L1114.9 694.2 L1116.4 694.0 L1117.9 693.9 L1119.4 693.7 L1120.9 693.5 L1122.4 693.4 L1123.9 693.2 L1125.4 693.0 L1126.9 692.8 L1128.4 692.6 L1129.9 692.4 L1131.4 692.3 L1132.9 692.1 L1134.4 691.9 L1135.9 691.7 L1137.4 691.5 L1138.9 691.3 L1140.4 691.2 L1141.9 691.0 L1143.4 690.8 L1144.9 690.6 L1146.4 690.5 L1148.0 690.3 L1149.5 690.1 L1151.0 690.0 L1152.5 689.8 L1154.0 689.7 L1155.5 689.6 L1157.0 689.5 L1158.5 689.3 L1160.1 689.2 L1161.6 689.1 L1163.1 689.0 L1164.6 688.9 L1166.1 688.9 L1167.6 688.8 L1169.1 688.8 L1170.6 688.7 L1172.1 688.7 L1173.6 688.7 L1175.1 688.7 L1176.6 688.7 L1178.1 688.7 L1179.6 688.7 L1181.1 688.8 L1182.6 688.8 L1184.1 688.9 L1185.6 689.0 L1187.0 689.1 L1188.5 689.2 L1190.0 689.4 L1191.5 689.5 L1192.9 689.7 L1194.4 689.9 L1195.9 690.1 L1197.3 690.4 L1198.8 690.6 L1200.3 690.9 L1201.7 691.2 L1203.2 691.5 L1204.6 691.8 L1206.0 692.2 L1207.5 692.5 L1208.9 692.9 L1210.3 693.3 L1211.8 693.7 L1213.2 694.2 L1214.6 694.6 L1216.0 695.1 L1217.4 695.6 L1218.8 696.1 L1220.2 696.6 L1221.6 697.1 L1223.0 697.7 L1224.4 698.3 L1225.7 698.9 L1227.1 699.5 L1228.5 700.1 L1229.8 700.7 L1231.2 701.3 L1232.5 702.0 L1233.9 702.7 L1235.2 703.4 L1236.5 704.1 L1237.8 704.8 L1239.2 705.5 L1240.5 706.3 L1241.8 707.0 L1243.1 707.8 L1244.4 708.6 L1245.6 709.4 L1246.9 710.2 L1248.2 711.0 L1249.4 711.8 L1250.7 712.7 L1251.9 713.5 L1253.2 714.4 L1254.4 715.3 L1255.6 716.2 L1256.9 717.1 L1258.1 718.0 L1259.3 718.9 L1260.4 719.8 L1261.6 720.8 L1262.8 721.7 L1264.0 722.7 L1265.1 723.7 L1266.3 724.6 L1267.4 725.6 L1268.6 726.6 L1269.7 727.6 L1270.8 728.6 L1271.9 729.6 L1273.0 730.7 L1274.1 731.7 L1275.2 732.8 L1276.2 733.8 L1277.3 734.9 L1278.3 735.9 L1279.4 737.0 L1280.4 738.1 L1281.5 739.2 L1282.5 740.3 L1283.5 741.4 L1284.5 742.5 L1285.5 743.6 L1286.5 744.7 L1287.5 745.8 L1288.4 747.0 L1289.4 748.1 L1290.4 749.3 L1291.3 750.4 L1292.2 751.6 L1293.2 752.7 L1294.1 753.9 L1295.0 755.1 L1295.9 756.3 L1296.9 757.4 L1297.8 758.6 L1298.7 759.8 L1299.5 761.0 L1300.4 762.3 L1301.3 763.5 L1302.2 764.7 L1303.0 765.9 L1303.9 767.1 L1304.7 768.4 L1305.6 769.6 L1306.4 770.9 L1307.2 772.1 L1308.1 773.4 L1308.9 774.6 L1309.7 775.9 L1310.5 777.1 L1311.3 778.4 L1312.1 779.7 L1312.9 781.0 L1313.7 782.2 L1314.5 783.5 L1315.2 784.8 L1316.0 786.1 L1316.8 787.4 L1317.5 788.7 L1318.3 790.0 L1319.0 791.3 L1319.8 792.6 L1320.5 793.9 L1321.3 795.2 L1322.0 796.5 L1322.7 797.9 L1323.4 799.2 L1324.2 800.5 L1324.9 801.8 L1325.6 803.2 L1326.3 804.5 L1327.0 805.8 L1327.7 807.1 L1328.4 808.5 L1329.1 809.8 L1329.8 811.2 L1330.4 812.5 L1331.1 813.8 L1331.8 815.2 L1332.5 816.5 L1333.1 817.9 L1333.8 819.2 L1334.5 820.5 L1335.1 821.9 L1335.8 823.2 L1336.4 824.6 L1337.1 825.9 L1337.7 827.3 L1338.3 828.7 L1339.0 830.0 L1339.6 831.4 L1340.2 832.7 L1340.8 834.1 L1341.4 835.5 L1342.0 836.8 L1342.6 838.2 L1343.2 839.6 L1343.8 841.0 L1344.4 842.3 L1345.0 843.7 L1345.5 845.1 L1346.1 846.5 L1346.7 847.9 L1347.2 849.2 L1347.8 850.6 L1348.3 852.0 L1348.8 853.4 L1349.3 854.8 L1349.9 856.2 L1350.4 857.6 L1350.9 859.0 L1351.4 860.5 L1351.8 861.9 L1352.3 863.3 L1352.8 864.7 L1353.3 866.1 L1353.7 867.5 L1354.2 869.0 L1354.6 870.4 L1355.0 871.8 L1355.5 873.3 L1355.9 874.7 L1356.3 876.1 L1356.7 877.6 L1357.1 879.0 L1357.5 880.5 L1357.9 881.9 L1358.3 883.4 L1358.7 884.8 L1359.1 886.3 L1359.5 887.7 L1359.9 889.2 L1360.2 890.6 L1360.6 892.1 L1361.0 893.5 L1361.4 895.0 L1361.7 896.5 L1362.1 897.9 L1362.5 899.4 L1362.8 900.8 L1363.2 902.3 L1363.6 903.8 L1363.9 905.2 L1364.3 906.7 L1364.6 908.1 L1365.0 909.6 L1365.4 911.1 L1365.7 912.5 L1366.1 914.0 L1366.5 915.4 L1366.8 916.9 L1367.2 918.4 L1367.6 919.8 L1367.9 921.3 L1368.3 922.7 L1368.7 924.2 L1369.0 925.6 L1369.4 927.1 L1369.8 928.6 L1370.2 930.0 L1370.6 931.5 L1370.9 932.9 L1371.3 934.4 L1371.7 935.8 L1372.1 937.3 L1372.5 938.7 L1372.9 940.2 L1373.3 941.6 L1373.6 943.1 L1374.0 944.5 L1374.4 946.0 L1374.8 947.4 L1375.2 948.9 L1375.6 950.3 L1376.0 951.8 L1376.4 953.2 L1376.8 954.6 L1377.2 956.1 L1377.7 957.5 L1378.1 959.0 L1378.5 960.4 L1378.9 961.9 L1379.3 963.3 L1379.7 964.7 L1380.1 966.2 L1380.6 967.6 L1381.0 969.1 L1381.4 970.5 L1381.8 971.9 L1382.3 973.4 L1382.7 974.8 L1383.1 976.2 L1383.6 977.7 L1384.0 979.1 L1384.4 980.5 L1384.9 982.0 L1385.3 983.4 L1385.8 984.8 L1386.2 986.3 L1386.7 987.7 L1387.1 989.1 L1387.6 990.5 L1388.0 992.0 L1388.5 993.4 L1388.9 994.8 L1389.4 996.2 L1389.9 997.7 L1390.3 999.1 L1390.8 1000.5 L1391.3 1001.9 L1391.7 1003.4 L1392.2 1004.8 L1392.7 1006.2 L1393.2 1007.6 L1393.7 1009.0 L1394.1 1010.5 L1394.6 1011.9 L1395.1 1013.3 L1395.6 1014.7 L1396.1 1016.1 L1396.6 1017.5 L1397.1 1018.9 L1397.6 1020.3 L1398.1 1021.8 L1398.6 1023.2 L1399.1 1024.6 L1399.6 1026.0 L1400.1 1027.4 L1400.6 1028.8 L1401.2 1030.2 L1401.7 1031.6 L1402.2 1033.0 L1402.7 1034.4 L1403.3 1035.8 L1403.8 1037.2 L1404.3 1038.6 L1404.9 1040.0 L1405.4 1041.4 L1406.0 1042.8 L1406.5 1044.2 L1407.1 1045.6 L1407.6 1047.0 L1408.2 1048.4 L1408.8 1049.8 L1409.3 1051.2 L1409.9 1052.6 L1410.5 1054.0 L1411.1 1055.4 L1411.6 1056.8 L1412.2 1058.1 L1412.8 1059.5 L1413.4 1060.9 L1414.0 1062.3 L1414.6 1063.7 L1415.3 1065.0 L1415.9 1066.4 L1416.5 1067.8 L1417.2 1069.1 L1417.8 1070.5 L1418.5 1071.9 L1419.1 1073.2 L1419.8 1074.5 L1420.5 1075.9 L1421.2 1077.2 L1421.9 1078.5 L1422.6 1079.8 L1423.4 1081.1 L1424.1 1082.4 L1424.9 1083.7 L1425.7 1085.0 L1426.4 1086.2 L1427.2 1087.5 L1428.1 1088.7 L1428.9 1090.0 L1429.7 1091.2 L1430.6 1092.4 L1431.5 1093.6 L1432.4 1094.8 L1433.3 1095.9 L1434.3 1097.1 L1435.2 1098.2 L1436.2 1099.4 L1437.2 1100.5 L1438.2 1101.6 L1439.3 1102.6 L1440.4 1103.7 L1441.5 1104.7 L1442.6 1105.7 L1443.8 1106.7 L1445.0 1107.7 L1446.2 1108.6 L1447.4 1109.5 L1448.7 1110.3 L1450.1 1111.1 L1451.4 1111.8 L1452.8 1112.4 L1454.2 1112.8 L1455.6 1113.2 L1457.0 1113.4 L1458.4 1113.4 L1459.9 1113.2 L1461.3 1112.9 L1462.7 1112.5 L1464.2 1112.0 L1465.5 1111.3 L1466.9 1110.6 L1468.2 1109.7 L1469.4 1108.8 L1470.6 1107.9 L1471.7 1106.9 L1472.7 1105.8 L1473.7 1104.7 L1474.7 1103.5 L1475.6 1102.4 L1476.5 1101.2 L1477.4 1099.9 L1478.2 1098.7 L1479.0 1097.4 L1479.8 1096.1 L1480.5 1094.8 L1481.3 1093.5 L1482.0 1092.2 L1482.8 1090.9 L1483.5 1089.6 L1484.2 1088.3 L1484.9 1087.0 L1485.5 1085.6 L1486.2 1084.3 L1486.9 1082.9 L1487.5 1081.6 L1488.1 1080.2 L1488.8 1078.9 L1489.4 1077.5 L1490.0 1076.1 L1490.6 1074.7 L1491.1 1073.4 L1491.7 1072.0 L1492.3 1070.6 L1492.8 1069.2 L1493.4 1067.8 L1493.9 1066.4 L1494.5 1065.0 L1495.0 1063.6 L1495.5 1062.2 L1496.1 1060.8 L1496.6 1059.4 L1497.1 1057.9 L1497.6 1056.5 L1498.1 1055.1 L1498.6 1053.7 L1499.1 1052.3 L1499.6 1050.9 L1500.0 1049.4 L1500.5 1048.0 L1501.0 1046.6 L1501.5 1045.2 L1501.9 1043.7 L1502.4 1042.3 L1502.8 1040.9 L1503.3 1039.5 L1503.7 1038.0 L1504.2 1036.6 L1504.6 1035.2 L1505.1 1033.7 L1505.5 1032.3 L1505.9 1030.9 L1506.4 1029.4 L1506.8 1028.0 L1507.2 1026.6 L1507.6 1025.1 L1508.1 1023.7 L1508.5 1022.2 L1508.9 1020.8 L1509.3 1019.4 L1509.7 1017.9 L1510.1 1016.5 L1510.5 1015.0 L1510.9 1013.6 L1511.3 1012.1 L1511.7 1010.7 L1512.1 1009.2 L1512.5 1007.8 L1512.9 1006.3 L1513.2 1004.9 L1513.6 1003.4 L1514.0 1002.0 L1514.4 1000.5 L1514.7 999.1 L1515.1 997.6 L1515.5 996.2 L1515.8 994.7 L1516.2 993.3 L1516.6 991.8 L1516.9 990.3 L1517.3 988.9 L1517.6 987.4 L1518.0 986.0 L1518.3 984.5 L1518.6 983.0 L1519.0 981.6 L1519.3 980.1 L1519.7 978.6 L1520.0 977.2 L1520.3 975.7 L1520.7 974.2 L1521.0 972.8 L1521.4 971.3 L1521.7 969.8 L1522.1 968.4 L1522.4 966.9 L1522.8 965.5 L1523.2 964.0 L1523.5 962.6 L1523.9 961.1 L1524.3 959.7 L1524.7 958.2 L1525.1 956.8 L1525.5 955.4 L1526.0 953.9 L1526.4 952.5 L1526.9 951.1 L1527.3 949.7 L1527.8 948.3 L1528.3 946.9 L1528.8 945.5 L1529.4 944.2 L1530.2 943.3 L1531.3 943.0 L1532.7 943.5 L1534.3 944.6 L1535.8 945.8 L1537.0 946.9 L1538.0 948.0 L1538.9 949.1 L1539.7 950.2 L1540.6 951.3 L1541.5 952.4 L1542.4 953.6 L1543.2 954.8 L1544.2 956.0 L1545.1 957.3 L1546.0 958.5 L1546.9 959.7 L1547.8 961.0 L1548.7 962.2 L1549.6 963.4 L1550.5 964.6 L1551.3 965.8 L1552.3 967.0 L1553.2 968.1 L1554.1 969.3 L1555.1 970.4 L1556.2 971.4 L1557.2 972.5 L1558.4 973.5 L1559.6 974.4 L1560.8 975.3 L1562.1 976.0 L1563.5 976.6 L1564.9 977.1 L1566.4 977.5 L1567.9 977.6 L1569.4 977.6 L1570.9 977.4 L1572.3 976.9 L1573.5 976.2 L1574.7 975.3 L1575.8 974.3 L1576.8 973.1 L1577.7 971.9 L1578.5 970.6 L1579.3 969.3 L1580.1 968.0 L1580.7 966.7 L1581.4 965.3 L1582.0 963.9 L1582.5 962.5 L1583.0 961.1 L1583.5 959.7 L1584.0 958.3 L1584.5 956.8 L1584.9 955.4 L1585.4 954.0 L1585.8 952.5 L1586.2 951.1 L1586.6 949.6 L1587.0 948.2 L1587.4 946.7 L1587.8 945.3 L1588.2 943.8 L1588.6 942.4 L1588.9 940.9 L1589.3 939.5 L1589.6 938.0 L1590.0 936.6 L1590.3 935.1 L1590.7 933.6 L1591.0 932.2 L1591.3 930.7 L1591.6 929.3 L1591.9 927.8 L1592.2 926.3 L1592.5 924.9 L1592.8 923.4 L1593.1 921.9 L1593.4 920.5 L1593.7 919.0 L1593.9 917.5 L1594.2 916.0 L1594.5 914.6 L1594.7 913.1 L1595.0 911.6 L1595.2 910.1 L1595.5 908.7 L1595.7 907.2 L1595.9 905.7 L1596.1 904.2 L1596.4 902.8 L1596.6 901.3 L1596.8 899.8 L1597.0 898.3 L1597.2 896.8 L1597.4 895.3 L1597.6 893.9 L1597.8 892.4 L1598.0 890.9 L1598.2 889.4 L1598.4 887.9 L1598.6 886.4 L1598.7 884.9 L1598.9 883.4 L1599.1 881.9 L1599.3 880.5 L1599.4 879.0 L1599.6 877.5 L1599.8 876.0 L1599.9 874.5 L1600.1 873.0 L1600.3 871.5 L1600.4 870.0 L1600.6 868.5 L1600.7 867.0 L1600.9 865.5 L1601.0 864.0 L1601.2 862.5 L1601.3 861.0 L1601.5 859.5 L1601.6 858.1 L1601.8 856.6 L1601.9 855.1 L1602.0 853.6 L1602.2 852.1 L1602.3 850.6 L1602.5 849.1 L1602.6 847.6 L1602.8 846.1 L1602.9 844.6 L1603.0 843.1 L1603.2 841.6 L1603.3 840.1 L1603.5 838.6 L1603.6 837.1 L1603.8 835.6 L1603.9 834.1 L1604.1 832.6 L1604.2 831.1 L1604.4 829.6 L1604.5 828.1 L1604.7 826.6 L1604.8 825.1 L1604.9 823.6 L1605.1 822.1 L1605.2 820.6 L1605.4 819.1 L1605.5 817.6 L1605.7 816.1 L1605.9 814.7 L1606.0 813.2 L1606.2 811.7 L1606.3 810.2 L1606.5 808.7 L1606.6 807.2 L1606.8 805.7 L1606.9 804.2 L1607.1 802.7 L1607.3 801.2 L1607.4 799.7 L1607.6 798.2 L1607.7 796.7 L1607.9 795.3 L1608.1 793.8 L1608.2 792.3 L1608.4 790.8 L1608.5 789.3 L1608.7 787.8 L1608.9 786.3 L1609.0 784.8 L1609.2 783.4 L1609.4 781.9 L1609.5 780.4 L1609.7 778.9 L1609.9 777.4 L1610.1 775.9 L1610.2 774.5 L1610.4 773.0 L1610.6 771.5 L1610.7 770.0 L1610.9 768.5 L1611.1 767.1 L1611.3 765.6 L1611.5 764.1 L1611.6 762.6 L1611.8 761.2 L1612.0 759.7 L1612.2 758.2 L1612.4 756.7 L1612.5 755.3 L1612.7 753.8 L1612.9 752.3 L1613.1 750.9 L1613.3 749.4 L1613.6 747.9 L1613.8 746.4 L1614.1 744.9 L1614.4 743.4 L1614.8 741.9 L1615.2 740.4 L1615.6 738.9 L1616.1 737.3 L1616.6 735.8 L1617.2 734.2 L1617.9 732.6 L1618.6 731.2 L1619.3 730.1 L1620.1 729.6 L1620.8 729.8 L1621.4 730.8 L1622.1 732.1 L1622.7 733.5 L1623.3 734.9 L1624.0 736.2 L1624.6 737.6 L1625.2 739.0 L1625.8 740.4 L1626.3 741.8 L1626.9 743.2 L1627.5 744.6 L1628.0 746.0 L1628.6 747.4 L1629.1 748.8 L1629.6 750.2 L1630.2 751.6 L1630.7 753.0 L1631.2 754.4 L1631.7 755.8 L1632.2 757.2 L1632.7 758.7 L1633.2 760.1 L1633.6 761.5 L1634.1 762.9 L1634.6 764.4 L1635.0 765.8 L1635.5 767.2 L1635.9 768.7 L1636.4 770.1 L1636.8 771.5 L1637.2 773.0 L1637.6 774.4 L1638.1 775.9 L1638.5 777.3 L1638.9 778.8 L1639.3 780.2 L1639.7 781.7 L1640.1 783.1 L1640.5 784.6 L1640.8 786.0 L1641.2 787.5 L1641.6 788.9 L1642.0 790.4 L1642.3 791.8 L1642.7 793.3 L1643.0 794.7 L1643.4 796.2 L1643.7 797.6 L1644.1 799.1 L1644.4 800.6 L1644.8 802.0 L1645.1 803.5 L1645.4 805.0 L1645.8 806.4 L1646.1 807.9 L1646.4 809.3 L1646.7 810.8 L1647.0 812.3 L1647.3 813.7 L1647.6 815.2 L1647.9 816.7 L1648.2 818.2 L1648.5 819.6 L1648.8 821.1 L1649.1 822.6 L1649.4 824.0 L1649.6 825.5 L1649.9 827.0 L1650.2 828.5 L1650.5 829.9 L1650.7 831.4 L1651.0 832.9 L1651.2 834.4 L1651.5 835.8 L1651.7 837.3 L1652.0 838.8 L1652.2 840.3 L1652.5 841.8 L1652.7 843.2 L1653.0 844.7 L1653.2 846.2 L1653.4 847.7 L1653.6 849.2 L1653.9 850.6 L1654.1 852.1 L1654.3 853.6 L1654.5 855.1 L1654.7 856.6 L1654.9 858.1 L1655.1 859.5 L1655.3 861.0 L1655.5 862.5 L1655.7 864.0 L1655.9 865.5 L1656.1 867.0 L1656.3 868.5 L1656.5 869.9 L1656.7 871.4 L1656.9 872.9 L1657.1 874.4 L1657.2 875.9 L1657.4 877.4 L1657.6 878.9 L1657.8 880.4 L1657.9 881.8 L1658.1 883.3 L1658.3 884.8 L1658.4 886.3 L1658.6 887.8 L1658.7 889.3 L1658.9 890.8 L1659.0 892.3 L1659.2 893.8 L1659.3 895.3 L1659.5 896.8 L1659.6 898.2 L1659.8 899.7 L1659.9 901.2 L1660.0 902.7 L1660.2 904.2 L1660.3 905.7 L1660.4 907.2 L1660.6 908.7 L1660.7 910.2 L1660.8 911.7 L1660.9 913.2 L1661.0 914.7 L1661.2 916.2 L1661.3 917.7 L1661.4 919.2 L1661.5 920.7 L1661.6 922.2 L1661.7 923.6 L1661.8 925.1 L1661.9 926.6 L1662.0 928.1 L1662.1 929.6 L1662.2 931.1 L1662.3 932.6 L1662.4 934.1 L1662.5 935.6 L1662.6 937.1 L1662.7 938.6 L1662.8 940.1 L1662.9 941.6 L1663.0 943.1 L1663.1 944.6 L1663.1 946.1 L1663.2 947.6 L1663.3 949.1 L1663.4 950.6 L1663.5 952.1 L1663.5 953.6 L1663.6 955.1 L1663.7 956.6 L1663.8 958.1 L1663.8 959.6 L1663.9 961.1 L1664.0 962.6 L1664.0 964.1 L1664.1 965.6 L1664.2 967.1 L1664.2 968.6 L1664.3 970.1 L1664.4 971.6 L1664.4 973.1 L1664.5 974.6 L1664.5 976.1 L1664.6 977.6 L1664.7 979.1 L1664.7 980.6 L1664.8 982.1 L1664.8 983.6 L1664.9 985.1 L1664.9 986.6 L1665.0 988.1 L1665.0 989.6 L1665.1 991.1 L1665.1 992.6 L1665.2 994.1 L1665.2 995.6 L1665.3 997.1 L1665.3 998.6 L1665.4 1000.1 L1665.4 1001.6 L1665.5 1003.1 L1665.5 1004.6 L1665.6 1006.1 L1665.6 1007.6 L1665.6 1009.1 L1665.7 1010.6 L1665.7 1012.1 L1665.8 1013.6 L1665.8 1015.1 L1665.9 1016.6 L1665.9 1018.1 L1666.0 1019.6 L1666.0 1021.1 L1666.0 1022.6 L1666.1 1024.1 L1666.1 1025.6 L1666.2 1027.1 L1666.2 1028.6 L1666.3 1030.1 L1666.3 1031.6 L1666.4 1033.1 L1666.4 1034.6 L1666.5 1036.1 L1666.5 1037.6 L1666.6 1039.1 L1666.6 1040.6 L1666.7 1042.1 L1666.8 1043.6 L1666.8 1045.1 L1666.9 1046.6 L1666.9 1048.1 L1667.0 1049.6 L1667.1 1051.1 L1667.1 1052.6 L1667.2 1054.1 L1667.3 1055.6 L1667.3 1057.1 L1667.4 1058.6 L1667.5 1060.1 L1667.6 1061.6 L1667.7 1063.1 L1667.7 1064.6 L1667.8 1066.1 L1667.9 1067.6 L1668.0 1069.1 L1668.1 1070.6 L1668.2 1072.1 L1668.3 1073.5 L1668.4 1075.0 L1668.5 1076.5 L1668.6 1078.0 L1668.7 1079.5 L1668.8 1081.0 L1668.9 1082.5 L1669.0 1084.0 L1669.1 1085.5 L1669.3 1087.0 L1669.4 1088.5 L1669.5 1090.0 L1669.6 1091.5 L1669.8 1093.0 L1669.9 1094.5 L1670.1 1095.9 L1670.2 1097.4 L1670.3 1098.9 L1670.5 1100.4 L1670.7 1101.9 L1670.8 1103.4 L1671.0 1104.9 L1671.1 1106.4 L1671.3 1107.9 L1671.5 1109.3 L1671.7 1110.8 L1671.8 1112.3 L1672.0 1113.8 L1672.2 1115.3 L1672.4 1116.8 L1672.6 1118.3 L1672.8 1119.8 L1673.0 1121.2 L1673.2 1122.7 L1673.4 1124.2 L1673.7 1125.7 L1673.9 1127.2 L1674.1 1128.7 L1674.3 1130.2 L1674.5 1131.6 L1674.8 1133.1 L1675.0 1134.6 L1675.2 1136.1 L1675.5 1137.6 L1675.7 1139.1 L1675.9 1140.5 L1676.2 1142.0 L1676.4 1143.5 L1676.7 1145.0 L1676.9 1146.5 L1677.1 1147.9 L1677.4 1149.4 L1677.6 1150.9 L1677.9 1152.4 L1678.1 1153.9 L1678.4 1155.4 L1678.6 1156.8 L1678.8 1158.3 L1679.1 1159.8 L1679.3 1161.3 L1679.6 1162.8 L1679.8 1164.3 L1680.0 1165.7 L1680.3 1167.2 L1680.5 1168.7 L1680.7 1170.2 L1681.0 1171.7 L1681.2 1173.1 L1681.4 1174.6 L1681.7 1176.1 L1681.9 1177.6 L1682.1 1179.1 L1682.3 1180.6 L1682.6 1182.0 L1682.8 1183.5 L1683.0 1185.0 L1683.2 1186.5 L1683.5 1188.0 L1683.7 1189.5 L1683.9 1190.9 L1684.1 1192.4 L1684.4 1193.9 L1684.6 1195.4 L1684.8 1196.9 L1685.0 1198.3 L1685.2 1199.8 L1685.5 1201.3 L1685.7 1202.8 L1685.9 1204.3 L1686.1 1205.8 L1686.4 1207.2 L1686.6 1208.7 L1686.8 1210.2 L1687.0 1211.7 L1687.3 1213.2 L1687.5 1214.6 L1687.7 1216.1 L1687.9 1217.6 L1688.2 1219.1 L1688.4 1220.6 L1688.6 1222.1 L1688.9 1223.5 L1689.1 1225.0 L1689.3 1226.5 L1689.6 1228.0 L1689.8 1229.5 L1690.0 1230.9 L1690.3 1232.4 L1690.5 1233.9 L1690.8 1235.4 L1691.0 1236.9 L1691.2 1238.3 L1691.5 1239.8 L1691.7 1241.3 L1692.0 1242.8 L1692.2 1244.3 L1692.5 1245.7 L1692.8 1247.2 L1693.0 1248.7 L1693.3 1250.2 L1693.5 1251.6 L1693.8 1253.1 L1694.1 1254.6 L1694.3 1256.1 L1694.6 1257.5 L1694.9 1259.0 L1695.2 1260.5 L1695.4 1262.0 L1695.7 1263.5 L1696.0 1264.9 L1696.3 1266.4 L1696.6 1267.9 L1696.8 1269.3 L1697.1 1270.8 L1697.4 1272.3 L1697.7 1273.8 L1698.0 1275.2 L1698.3 1276.7 L1698.6 1278.2 L1698.9 1279.7 L1699.2 1281.1 L1699.5 1282.6 L1699.8 1284.1 L1700.1 1285.5 L1700.5 1287.0 L1700.8 1288.5 L1701.1 1289.9 L1701.4 1291.4 L1701.7 1292.9 L1702.1 1294.3 L1702.4 1295.8 L1702.7 1297.3 L1703.0 1298.7 L1703.4 1300.2 L1703.7 1301.7 L1704.0 1303.1 L1704.4 1304.6 L1704.7 1306.0 L1705.1 1307.5 L1705.4 1309.0 L1705.8 1310.4 L1706.1 1311.9 L1706.5 1313.3 L1706.8 1314.8 L1707.2 1316.2 L1707.5 1317.7 L1707.9 1319.1 L1708.3 1320.6 L1708.6 1322.0 L1709.0 1323.5 L1709.4 1324.9 L1709.7 1326.4 L1710.1 1327.8 L1710.5 1329.3 L1710.9 1330.7 L1711.2 1332.2 L1711.6 1333.6 L1712.0 1335.1 L1712.4 1336.5 L1712.8 1338.0 L1713.2 1339.4 L1713.6 1340.8 L1714.0 1342.3 L1714.5 1343.7 L1714.9 1345.2 L1715.3 1346.6 L1715.8 1348.0 L1716.3 1349.5 L1716.7 1350.9 L1717.2 1352.3 L1717.7 1353.8 L1718.3 1355.2 L1718.8 1356.6 L1719.3 1358.0 L1719.9 1359.5 L1720.5 1360.9 L1721.0 1362.3 L1721.6 1363.7 L1722.1 1365.0 L1722.6 1366.3 L1723.0 1367.5 L1723.5 1368.8 L1724.3 1370.3 L1725.3 1371.8 L1726.5 1373.3 L1727.7 1374.3 L1728.8 1374.5 L1729.8 1374.0 L1730.7 1372.9 L1731.5 1371.6 L1732.2 1370.3 L1732.9 1369.0 L1733.6 1367.6 L1734.2 1366.3 L1734.8 1364.9 L1735.3 1363.5 L1735.9 1362.1 L1736.4 1360.7 L1736.8 1359.3 L1737.3 1357.9 L1737.7 1356.4 L1738.1 1355.0 L1738.4 1353.6 L1738.8 1352.1 L1739.1 1350.6 L1739.4 1349.2 L1739.7 1347.7 L1739.9 1346.2 L1740.2 1344.7 L1740.5 1343.3 L1740.7 1341.8 L1740.9 1340.3 L1741.2 1338.8 L1741.4 1337.3 L1741.6 1335.8 L1741.8 1334.3 L1742.1 1332.8 L1742.3 1331.4 L1742.5 1329.9 L1742.7 1328.4 L1742.9 1326.9 L1743.1 1325.4 L1743.3 1323.9 L1743.5 1322.4 L1743.7 1320.9 L1743.9 1319.4 L1744.1 1317.9 L1744.3 1316.5 L1744.5 1315.0 L1744.7 1313.5 L1744.9 1312.0 L1745.1 1310.5 L1745.3 1309.0 L1745.5 1307.5 L1745.6 1306.0 L1745.8 1304.5 L1746.0 1303.0 L1746.2 1301.5 L1746.3 1300.1 L1746.5 1298.6 L1746.7 1297.1 L1746.8 1295.6 L1747.0 1294.1 L1747.2 1292.6 L1747.3 1291.1 L1747.5 1289.6 L1747.7 1288.1 L1747.8 1286.6 L1748.0 1285.1 L1748.1 1283.6 L1748.3 1282.1 L1748.4 1280.7 L1748.6 1279.2 L1748.7 1277.7 L1748.9 1276.2 L1749.0 1274.7 L1749.1 1273.2 L1749.3 1271.7 L1749.4 1270.2 L1749.6 1268.7 L1749.7 1267.2 L1749.8 1265.7 L1750.0 1264.2 L1750.1 1262.7 L1750.2 1261.2 L1750.3 1259.8 L1750.5 1258.3 L1750.6 1256.8 L1750.7 1255.3 L1750.8 1253.8 L1751.0 1252.3 L1751.1 1250.8 L1751.2 1249.3 L1751.3 1247.8 L1751.4 1246.3 L1751.5 1244.8 L1751.7 1243.3 L1751.8 1241.8 L1751.9 1240.3 L1752.0 1238.8 L1752.1 1237.3 L1752.2 1235.8 L1752.3 1234.3 L1752.4 1232.9 L1752.5 1231.4 L1752.6 1229.9 L1752.7 1228.4 L1752.8 1226.9 L1752.9 1225.4 L1753.0 1223.9 L1753.1 1222.4 L1753.2 1220.9 L1753.3 1219.4 L1753.4 1217.9 L1753.5 1216.4 L1753.6 1214.9 L1753.7 1213.4 L1753.8 1211.9 L1753.9 1210.4 L1754.0 1208.9 L1754.1 1207.4 L1754.2 1205.9 L1754.3 1204.4 L1754.4 1202.9 L1754.5 1201.4 L1754.5 1199.9 L1754.6 1198.4 L1754.7 1196.9 L1754.8 1195.5 L1754.9 1194.0 L1755.0 1192.5 L1755.1 1191.0 L1755.1 1189.5 L1755.2 1188.0 L1755.3 1186.5 L1755.4 1185.0 L1755.5 1183.5 L1755.6 1182.0 L1755.6 1180.5 L1755.7 1179.0 L1755.8 1177.5 L1755.9 1176.0 L1756.0 1174.5 L1756.1 1173.0 L1756.1 1171.5 L1756.2 1170.0 L1756.3 1168.5 L1756.4 1167.0 L1756.5 1165.5 L1756.5 1164.0 L1756.6 1162.5 L1756.7 1161.0 L1756.8 1159.5 L1756.8 1158.0 L1756.9 1156.5 L1757.0 1155.0 L1757.1 1153.5 L1757.1 1152.0 L1757.2 1150.5 L1757.3 1149.0 L1757.4 1147.5 L1757.5 1146.0 L1757.5 1144.5 L1757.6 1143.0 L1757.7 1141.5 L1757.8 1140.0 L1757.8 1138.5 L1757.9 1137.0 L1758.0 1135.5 L1758.1 1134.0 L1758.1 1132.5 L1758.2 1131.0 L1758.3 1129.5 L1758.4 1128.0 L1758.4 1126.5 L1758.5 1125.0 L1758.6 1123.5 L1758.7 1122.0 L1758.7 1120.5 L1758.8 1119.0 L1758.9 1117.5 L1759.0 1116.0 L1759.0 1114.6 L1759.1 1113.1 L1759.2 1111.6 L1759.3 1110.1 L1759.3 1108.6 L1759.4 1107.1 L1759.5 1105.6 L1759.6 1104.1 L1759.6 1102.6 L1759.7 1101.1 L1759.8 1099.6 L1759.9 1098.1 L1760.0 1096.6 L1760.0 1095.1 L1760.1 1093.6 L1760.2 1092.1 L1760.3 1090.6 L1760.3 1089.1 L1760.4 1087.6 L1760.5 1086.1 L1760.6 1084.6 L1760.7 1083.1 L1760.7 1081.6 L1760.8 1080.1 L1760.9 1078.6 L1761.0 1077.1 L1761.1 1075.6 L1761.2 1074.1 L1761.2 1072.6 L1761.3 1071.1 L1761.4 1069.6 L1761.5 1068.1 L1761.6 1066.6 L1761.7 1065.1 L1761.7 1063.6 L1761.8 1062.1 L1761.9 1060.6 L1762.0 1059.1 L1762.1 1057.6 L1762.2 1056.1 L1762.3 1054.6 L1762.4 1053.1 L1762.4 1051.6 L1762.5 1050.1 L1762.6 1048.6 L1762.7 1047.1 L1762.8 1045.6 L1762.9 1044.1 L1763.0 1042.6 L1763.1 1041.1 L1763.2 1039.7 L1763.3 1038.2 L1763.4 1036.7 L1763.5 1035.2 L1763.6 1033.7 L1763.7 1032.2 L1763.8 1030.7 L1763.9 1029.2 L1764.0 1027.7 L1764.1 1026.2 L1764.2 1024.7 L1764.3 1023.2 L1764.4 1021.7 L1764.5 1020.2 L1764.6 1018.7 L1764.7 1017.2 L1764.8 1015.7 L1764.9 1014.2 L1765.0 1012.7 L1765.1 1011.2 L1765.2 1009.7 L1765.3 1008.2 L1765.4 1006.7 L1765.5 1005.2 L1765.6 1003.7 L1765.7 1002.3 L1765.8 1000.8 L1765.9 999.3 L1766.0 997.8 L1766.1 996.3 L1766.2 994.8 L1766.4 993.3 L1766.5 991.8 L1766.6 990.3 L1766.7 988.8 L1766.8 987.3 L1766.9 985.8 L1767.0 984.3 L1767.1 982.8 L1767.2 981.3 L1767.3 979.8 L1767.5 978.3 L1767.6 976.8 L1767.7 975.3 L1767.8 973.8 L1767.9 972.3 L1768.0 970.9 L1768.1 969.4 L1768.2 967.9 L1768.4 966.4 L1768.5 964.9 L1768.6 963.4 L1768.7 961.9 L1768.8 960.4 L1768.9 958.9 L1769.0 957.4 L1769.2 955.9 L1769.3 954.4 L1769.4 952.9 L1769.5 951.4 L1769.6 949.9 L1769.7 948.4 L1769.8 946.9 L1770.0 945.4 L1770.1 943.9 L1770.2 942.4 L1770.3 940.9 L1770.4 939.5 L1770.5 938.0 L1770.6 936.5 L1770.8 935.0 L1770.9 933.5 L1771.0 932.0 L1771.1 930.5 L1771.2 929.0 L1771.3 927.5 L1771.4 926.0 L1771.6 924.5 L1771.7 923.0 L1771.8 921.5 L1771.9 920.0 L1772.0 918.5 L1772.1 917.0 L1772.2 915.5 L1772.3 914.0 L1772.5 912.5 L1772.6 911.0 L1772.7 909.5 L1772.8 908.0 L1772.9 906.5 L1773.0 905.0 L1773.1 903.5 L1773.2 902.0 L1773.4 900.6 L1773.5 899.1 L1773.6 897.6 L1773.7 896.1 L1773.8 894.6 L1773.9 893.1 L1774.0 891.6 L1774.1 890.1 L1774.3 888.6 L1774.4 887.1 L1774.5 885.6 L1774.6 884.1 L1774.7 882.6 L1774.8 881.1 L1774.9 879.6 L1775.1 878.1 L1775.2 876.6 L1775.3 875.1 L1775.4 873.6 L1775.5 872.1 L1775.6 870.6 L1775.8 869.1 L1775.9 867.6 L1776.0 866.1 L1776.1 864.6 L1776.2 863.1 L1776.4 861.6 L1776.5 860.1 L1776.6 858.6 L1776.7 857.1 L1776.8 855.7 L1777.0 854.2 L1777.1 852.7 L1777.2 851.2 L1777.3 849.7 L1777.5 848.2 L1777.6 846.7 L1777.7 845.2 L1777.9 843.7 L1778.0 842.2 L1778.1 840.7 L1778.3 839.2 L1778.4 837.7 L1778.5 836.2 L1778.7 834.7 L1778.8 833.2 L1778.9 831.7 L1779.1 830.2 L1779.2 828.7 L1779.4 827.3 L1779.5 825.8 L1779.7 824.3 L1779.8 822.8 L1779.9 821.3 L1780.1 819.8 L1780.2 818.3 L1780.4 816.8 L1780.5 815.3 L1780.7 813.8 L1780.9 812.3 L1781.0 810.8 L1781.2 809.3 L1781.3 807.9 L1781.5 806.4 L1781.7 804.9 L1781.8 803.4 L1782.0 801.9 L1782.2 800.4 L1782.3 798.9 L1782.5 797.4 L1782.7 795.9 L1782.9 794.5 L1783.0 793.0 L1783.2 791.5 L1783.4 790.0 L1783.6 788.5 L1783.8 787.0 L1784.0 785.5 L1784.1 784.0 L1784.3 782.6 L1784.5 781.1 L1784.7 779.6 L1784.9 778.1 L1785.1 776.6 L1785.3 775.1 L1785.5 773.6 L1785.7 772.2 L1785.9 770.7 L1786.1 769.2 L1786.4 767.7 L1786.6 766.2 L1786.8 764.7 L1787.0 763.3 L1787.2 761.8 L1787.5 760.3 L1787.7 758.8 L1787.9 757.3 L1788.1 755.9 L1788.4 754.4 L1788.6 752.9 L1788.9 751.4 L1789.1 749.9 L1789.3 748.5 L1789.6 747.0 L1789.8 745.5 L1790.1 744.0 L1790.3 742.6 L1790.6 741.1 L1790.9 739.6 L1791.1 738.1 L1791.4 736.7 L1791.7 735.2 L1791.9 733.7 L1792.2 732.2 L1792.5 730.8 L1792.8 729.3 L1793.0 727.8 L1793.3 726.3 L1793.6 724.9 L1793.9 723.4 L1794.2 721.9 L1794.5 720.5 L1794.8 719.0 L1795.1 717.5 L1795.4 716.1 L1795.8 714.6 L1796.1 713.1 L1796.4 711.7 L1796.8 710.2 L1797.1 708.8 L1797.5 707.3 L1797.8 705.8 L1798.2 704.4 L1798.6 702.9 L1798.9 701.5 L1799.3 700.0 L1799.7 698.6 L1800.1 697.1 L1800.5 695.7 L1800.9 694.2 L1801.4 692.8 L1801.8 691.3 L1802.2 689.9 L1802.7 688.5 L1803.1 687.0 L1803.6 685.6 L1804.1 684.1 L1804.6 682.7 L1805.1 681.3 L1805.6 679.9 L1806.1 678.4 L1806.6 677.0 L1807.2 675.6 L1807.7 674.2 L1808.3 672.8 L1808.9 671.4 L1809.5 670.0 L1810.1 668.6 L1810.8 667.3 L1811.5 666.0 L1812.2 664.7 L1813.0 663.4 L1813.8 662.2 L1814.6 661.0 L1815.5 659.9 L1816.5 658.8 L1817.5 657.7 L1818.5 656.7 L1819.6 655.7 L1820.8 654.8 L1822.0 654.0 L1823.4 653.2 L1824.7 652.5 L1826.2 651.9 L1827.6 651.4 L1829.1 651.1 L1830.6 651.0 L1832.1 651.0 L1833.6 651.2 L1835.0 651.6 L1836.4 652.1 L1837.8 652.7 L1839.2 653.4 L1840.5 654.1 L1841.8 654.9 L1843.1 655.7 L1844.3 656.6 L1845.5 657.6 L1846.6 658.5 L1847.7 659.5 L1848.8 660.5 L1849.9 661.6 L1851.0 662.6 L1852.0 663.7 L1853.0 664.8 L1854.0 665.9 L1855.0 667.1 L1856.0 668.2 L1856.9 669.4 L1857.9 670.5 L1858.8 671.7 L1859.8 672.8 L1860.7 674.0 L1861.6 675.2 L1862.5 676.4 L1863.4 677.6 L1864.3 678.8 L1865.2 680.0 L1866.0 681.2 L1866.9 682.4 L1867.7 683.7 L1868.6 684.9 L1869.4 686.1 L1870.2 687.4 L1871.0 688.6 L1871.8 689.9 L1872.6 691.2 L1873.4 692.4 L1874.2 693.7 L1875.0 695.0 L1875.7 696.3 L1876.5 697.6 L1877.2 698.9 L1878.0 700.2 L1878.7 701.5 L1879.5 702.8 L1880.2 704.1 L1880.9 705.4 L1881.6 706.7 L1882.3 708.1 L1883.0 709.4 L1883.7 710.7 L1884.4 712.1 L1885.1 713.4 L1885.8 714.7 L1886.5 716.1 L1887.2 717.4 L1887.8 718.8 L1888.5 720.1 L1889.2 721.5 L1889.8 722.8 L1890.5 724.2 L1891.1 725.5 L1891.8 726.9 L1892.5 728.2 L1893.1 729.6 L1893.8 731.0 L1894.4 732.3 L1895.0 733.7 L1895.7 735.0 L1896.3 736.4 L1897.0 737.8 L1897.6 739.1 L1898.2 740.5 L1898.9 741.8 L1899.5 743.2 L1900.1 744.6 L1900.8 745.9 L1901.4 747.3 L1902.0 748.7 L1902.7 750.0 L1903.3 751.4 L1903.9 752.7 L1904.6 754.1 L1905.2 755.5 L1905.8 756.8 L1906.5 758.2 L1907.1 759.5 L1907.7 760.9 L1908.4 762.2 L1909.0 763.6 L1909.7 764.9 L1910.3 766.3 L1911.0 767.6 L1911.6 769.0 L1912.3 770.3 L1912.9 771.7 L1913.6 773.0 L1914.2 774.4 L1914.9 775.7 L1915.5 777.1 L1916.2 778.4 L1916.9 779.7 L1917.5 781.1 L1918.2 782.4 L1918.9 783.7 L1919.6 785.1 L1920.3 786.4 L1921.0 787.7 L1921.6 789.1 L1922.3 790.4 L1923.0 791.7 L1923.8 793.0 L1924.5 794.3 L1925.2 795.7 L1925.9 797.0 L1926.6 798.3 L1927.4 799.6 L1928.1 800.9 L1928.8 802.2 L1929.6 803.5 L1930.3 804.8 L1931.1 806.1 L1931.9 807.4 L1932.6 808.7 L1933.4 809.9 L1934.2 811.2 L1935.0 812.5 L1935.8 813.8 L1936.6 815.0 L1937.4 816.3 L1938.2 817.6 L1939.1 818.8 L1939.9 820.1 L1940.7 821.3 L1941.6 822.6 L1942.5 823.8 L1943.3 825.0 L1944.2 826.2 L1945.2 827.4 L1946.1 828.6 L1947.0 829.8 L1948.0 830.9 L1949.0 832.0 L1950.0 833.1 L1951.0 834.2 L1952.1 835.2 L1953.2 836.3 L1954.3 837.3 L1955.4 838.2 L1956.6 839.1 L1957.7 840.0 L1959.0 840.9 L1960.2 841.7 L1961.5 842.5 L1962.8 843.3 L1964.2 844.0 L1965.6 844.6 L1967.0 845.2 L1968.4 845.7 L1969.8 846.1 L1971.3 846.4 L1972.8 846.6 L1974.3 846.7 L1975.8 846.6 L1977.3 846.5 L1978.8 846.2 L1980.3 845.9 L1981.7 845.4 L1983.2 844.9 L1984.6 844.3 L1985.9 843.7 L1987.3 843.0 L1988.6 842.3 L1989.8 841.5 L1991.0 840.7 L1992.2 839.8 L1993.4 838.9 L1994.5 838.0 L1995.6 837.0 L1996.7 836.0 L1997.8 835.0 L1998.8 833.9 L1999.8 832.8 L2000.8 831.7 L2001.8 830.5 L2002.8 829.4 L2003.7 828.2 L2004.7 827.0 L2005.6 825.8 L2006.5 824.6 L2007.4 823.4 L2008.3 822.1 L2009.1 820.9 L2010.0 819.7 L2010.9 818.4 L2011.7 817.2 L2012.6 815.9 L2013.4 814.7 L2014.2 813.4 L2015.0 812.2 L2015.8 810.9 L2016.6 809.6 L2017.4 808.4 L2018.2 807.1 L2019.0 805.8 L2019.8 804.5 L2020.5 803.2 L2021.3 801.9 L2022.0 800.6 L2022.7 799.3 L2023.5 798.0 L2024.2 796.7 L2024.9 795.4 L2025.6 794.1 L2026.3 792.7 L2027.0 791.4 L2027.6 790.1 L2028.3 788.7 L2028.9 787.4 L2029.6 786.0 L2030.2 784.7 L2030.8 783.3 L2031.4 781.9 L2032.0 780.6 L2032.6 779.2 L2033.2 777.8 L2033.8 776.4 L2034.3 775.0 L2034.9 773.6 L2035.4 772.2 L2035.9 770.8 L2036.4 769.4 L2036.9 768.0 L2037.4 766.6 L2037.8 765.2 L2038.3 763.7 L2038.7 762.3 L2039.2 760.9 L2039.6 759.4 L2040.0 758.0 L2040.3 756.5 L2040.7 755.1 L2041.1 753.6 L2041.4 752.2 L2041.7 750.7 L2042.1 749.2 L2042.4 747.8 L2042.7 746.3 L2043.0 744.8 L2043.3 743.4 L2043.6 741.9 L2043.9 740.4 L2044.2 739.0 L2044.5 737.5 L2044.8 736.0 L2045.1 734.5 L2045.4 733.1 L2045.7 731.6 L2046.0 730.1 L2046.2 728.6 L2046.5 727.2 L2046.8 725.7 L2047.2 724.2 L2047.5 722.7 L2047.8 721.3 L2048.1 719.8 L2048.4 718.3 L2048.8 716.9 L2049.1 715.4 L2049.5 714.0 L2049.8 712.5 L2050.2 711.0 L2050.5 709.6 L2050.9 708.1 L2051.3 706.7 L2051.7 705.2 L2052.0 703.8 L2052.4 702.3 L2052.8 700.9 L2053.2 699.4 L2053.6 698.0 L2054.0 696.5 L2054.4 695.1 L2054.8 693.7 L2055.2 692.2 L2055.6 690.8 L2056.1 689.3 L2056.5 687.9 L2056.9 686.5 L2057.3 685.0 L2057.8 683.6 L2058.2 682.1 L2058.6 680.7 L2059.0 679.3 L2059.5 677.8 L2059.9 676.4 L2060.4 675.0 L2060.9 673.6 L2061.4 672.2 L2061.9 670.8 L2062.5 669.4 L2063.1 668.0 L2063.7 666.7 L2064.4 665.3 L2065.1 664.0 L2065.9 662.7 L2066.7 661.4 L2067.5 660.2 L2068.5 658.9 L2069.5 657.7 L2070.5 656.6 L2071.6 655.6 L2072.8 654.7 L2074.1 654.0 L2075.4 653.4 L2076.7 653.2 L2078.1 653.2 L2079.6 653.5 L2081.1 654.0 L2082.6 654.6 L2084.0 655.2 L2085.5 655.7 L2086.9 656.3 L2088.3 656.8 L2089.7 657.3 L2091.1 657.8 L2092.5 658.3 L2093.9 658.7 L2095.3 659.2 L2096.7 659.7 L2098.1 660.1 L2099.6 660.5 L2101.0 660.9 L2102.4 661.3 L2103.9 661.7 L2105.3 662.1 L2106.8 662.4 L2108.2 662.8 L2109.7 663.1 L2111.1 663.5 L2112.6 663.8 L2114.1 664.1 L2115.5 664.4 L2117.0 664.7 L2118.5 665.0 L2120.0 665.2 L2121.4 665.5 L2122.9 665.7 L2124.4 665.9 L2125.9 666.2 L2127.4 666.4 L2128.9 666.6 L2130.4 666.8 L2131.9 666.9 L2133.4 667.1 L2134.9 667.3 L2136.4 667.4 L2137.9 667.5 L2139.4 667.7 L2140.9 667.8 L2142.4 667.9 L2143.9 668.0 L2145.4 668.1 L2146.9 668.1 L2148.4 668.2 L2149.9 668.3 L2151.4 668.3 L2152.9 668.4 L2154.4 668.4 L2155.9 668.4 L2157.4 668.4 L2158.9 668.4 L2160.4 668.4 L2161.9 668.4 L2163.4 668.4 L2164.8 668.4 L2166.3 668.3 L2167.8 668.3 L2169.3 668.3 L2170.8 668.2 L2172.3 668.1 L2173.8 668.1 L2175.3 668.0 L2176.8 667.9 L2178.3 667.9 L2179.8 667.8 L2181.3 667.7 L2182.8 667.6 L2184.3 667.5 L2185.8 667.4 L2187.3 667.3 L2188.8 667.2 L2190.3 667.1 L2191.8 667.0 L2193.3 666.9 L2194.8 666.8 L2196.2 666.6 L2197.7 666.5 L2199.2 666.4 L2200.7 666.3 L2202.2 666.2 L2203.7 666.0 L2205.2 665.9 L2206.7 665.8 L2208.2 665.7 L2209.7 665.6 L2211.2 665.5 L2212.7 665.3 L2214.2 665.2 L2215.7 665.1 L2217.2 665.0 L2218.7 664.9 L2220.2 664.8 L2221.7 664.7 L2223.2 664.6 L2224.7 664.5 L2226.2 664.4 L2226.7 664.4" fill="none" stroke="#ff2713" stroke-width="4.30" stroke-linejoin="round" stroke-linecap="butt"/>
<path d="M275.5 670.8 L277.0 671.1 L278.5 671.3 L280.0 671.6 L281.5 671.8 L283.0 672.1 L284.4 672.3 L285.9 672.6 L287.4 672.8 L288.9 673.1 L290.4 673.3 L291.8 673.6 L293.3 673.8 L294.8 674.1 L296.3 674.4 L297.8 674.6 L299.2 674.9 L300.7 675.1 L302.2 675.4 L303.7 675.6 L305.2 675.9 L306.6 676.1 L308.1 676.4 L309.6 676.7 L311.1 676.9 L312.6 677.2 L314.1 677.4 L315.5 677.7 L317.0 677.9 L318.5 678.2 L320.0 678.5 L321.4 678.7 L322.9 679.0 L324.4 679.2 L325.9 679.5 L327.4 679.7 L328.8 680.0 L330.3 680.3 L331.8 680.5 L333.3 680.8 L334.8 681.0 L336.2 681.3 L337.7 681.5 L339.2 681.8 L340.7 682.1 L342.2 682.3 L343.6 682.6 L345.1 682.8 L346.6 683.1 L348.1 683.4 L349.5 683.6 L351.0 683.9 L352.5 684.1 L354.0 684.4 L355.5 684.7 L356.9 684.9 L358.4 685.2 L359.9 685.4 L361.4 685.7 L362.8 686.0 L364.3 686.2 L365.8 686.5 L367.3 686.7 L368.8 687.0 L370.2 687.3 L371.7 687.5 L373.2 687.8 L374.7 688.1 L376.1 688.3 L377.6 688.6 L379.1 688.8 L380.6 689.1 L382.0 689.4 L383.5 689.6 L385.0 689.9 L386.5 690.2 L387.9 690.4 L389.4 690.7 L390.9 691.0 L392.4 691.2 L393.9 691.5 L395.3 691.7 L396.8 692.0 L398.3 692.3 L399.8 692.5 L401.2 692.8 L402.7 693.1 L404.2 693.3 L405.7 693.6 L407.1 693.9 L408.6 694.1 L410.1 694.4 L411.6 694.7 L413.0 694.9 L414.5 695.2 L416.0 695.5 L417.5 695.7 L418.9 696.0 L420.4 696.3 L421.9 696.5 L423.4 696.8 L424.8 697.1 L426.3 697.3 L427.8 697.6 L429.3 697.9 L430.7 698.1 L432.2 698.4 L433.7 698.7 L435.2 699.0 L436.6 699.2 L438.1 699.5 L439.6 699.8 L441.1 700.0 L442.5 700.3 L444.0 700.6 L445.5 700.8 L446.9 701.1 L448.4 701.4 L449.9 701.7 L451.4 701.9 L452.8 702.2 L454.3 702.5 L455.8 702.7 L457.3 703.0 L458.7 703.3 L460.2 703.6 L461.7 703.8 L463.2 704.1 L464.6 704.4 L466.1 704.6 L467.6 704.9 L469.1 705.2 L470.5 705.5 L472.0 705.7 L473.5 706.0 L474.9 706.3 L476.4 706.6 L477.9 706.8 L479.4 707.1 L480.8 707.4 L482.3 707.7 L483.8 707.9 L485.3 708.2 L486.7 708.5 L488.2 708.8 L489.7 709.0 L491.2 709.3 L492.6 709.6 L494.1 709.9 L495.6 710.1 L497.0 710.4 L498.5 710.7 L500.0 711.0 L501.5 711.3 L502.9 711.5 L504.4 711.8 L505.9 712.1 L507.4 712.4 L508.8 712.6 L510.3 712.9 L511.8 713.2 L513.2 713.5 L514.7 713.8 L516.2 714.0 L517.7 714.3 L519.1 714.6 L520.6 714.9 L522.1 715.2 L523.6 715.5 L525.0 715.7 L526.5 716.0 L528.0 716.3 L529.4 716.6 L530.9 716.9 L532.4 717.1 L533.9 717.4 L535.3 717.7 L536.8 718.0 L538.3 718.3 L539.7 718.6 L541.2 718.8 L542.7 719.1 L544.2 719.4 L545.6 719.7 L547.1 720.0 L548.6 720.3 L550.1 720.5 L551.5 720.8 L553.0 721.1 L554.5 721.4 L555.9 721.7 L557.4 722.0 L558.9 722.3 L560.4 722.6 L561.8 722.8 L563.3 723.1 L564.8 723.4 L566.2 723.7 L567.7 724.0 L569.2 724.3 L570.7 724.6 L572.1 724.9 L573.6 725.1 L575.1 725.4 L576.6 725.7 L578.0 726.0 L579.5 726.3 L581.0 726.6 L582.4 726.9 L583.9 727.2 L585.4 727.5 L586.9 727.8 L588.3 728.0 L589.8 728.3 L591.3 728.6 L592.7 728.9 L594.2 729.2 L595.7 729.5 L597.2 729.8 L598.6 730.1 L600.1 730.4 L601.6 730.7 L603.1 731.0 L604.5 731.3 L606.0 731.6 L607.5 731.9 L608.9 732.1 L610.4 732.4 L611.9 732.7 L613.4 733.0 L614.8 733.3 L616.3 733.6 L617.8 733.9 L619.2 734.2 L620.7 734.5 L622.2 734.8 L623.7 735.1 L625.1 735.4 L626.6 735.7 L628.1 736.0 L629.6 736.3 L631.0 736.6 L632.5 736.9 L634.0 737.2 L635.4 737.5 L636.9 737.8 L638.4 738.1 L639.9 738.4 L641.3 738.7 L642.8 739.0 L644.3 739.3 L645.8 739.6 L647.2 739.9 L648.7 740.2 L650.2 740.5 L651.6 740.8 L653.1 741.1 L654.6 741.4 L656.1 741.7 L657.5 742.0 L659.0 742.3 L660.5 742.6 L662.0 742.9 L663.4 743.1 L664.9 743.4 L666.4 743.7 L667.9 744.0 L669.3 744.3 L670.8 744.6 L672.3 744.9 L673.8 745.2 L675.2 745.5 L676.7 745.8 L678.2 746.1 L679.7 746.4 L681.1 746.6 L682.6 746.9 L684.1 747.2 L685.6 747.5 L687.0 747.8 L688.5 748.1 L690.0 748.4 L691.5 748.6 L692.9 748.9 L694.4 749.2 L695.9 749.5 L697.4 749.8 L698.8 750.0 L700.3 750.3 L701.8 750.6 L703.3 750.9 L704.7 751.1 L706.2 751.4 L707.7 751.7 L709.2 752.0 L710.6 752.2 L712.1 752.5 L713.6 752.8 L715.1 753.0 L716.5 753.3 L718.0 753.6 L719.5 753.8 L721.0 754.1 L722.5 754.3 L723.9 754.6 L725.4 754.9 L726.9 755.1 L728.4 755.4 L729.8 755.6 L731.3 755.9 L732.8 756.1 L734.3 756.4 L735.8 756.6 L737.2 756.9 L738.7 757.1 L740.2 757.4 L741.7 757.6 L743.2 757.8 L744.6 758.1 L746.1 758.3 L747.6 758.5 L749.1 758.8 L750.6 759.0 L752.0 759.2 L753.5 759.5 L755.0 759.7 L756.5 759.9 L758.0 760.1 L759.4 760.3 L760.9 760.6 L762.4 760.8 L763.9 761.0 L765.4 761.2 L766.9 761.4 L768.3 761.6 L769.8 761.8 L771.3 762.0 L772.8 762.2 L774.3 762.4 L775.8 762.6 L777.2 762.8 L778.7 763.0 L780.2 763.2 L781.7 763.4 L783.2 763.6 L784.7 763.7 L786.2 763.9 L787.6 764.1 L789.1 764.3 L790.6 764.5 L792.1 764.6 L793.6 764.8 L795.1 765.0 L796.6 765.1 L798.0 765.3 L799.5 765.4 L801.0 765.6 L802.5 765.7 L804.0 765.9 L805.5 766.0 L807.0 766.2 L808.5 766.3 L809.9 766.5 L811.4 766.6 L812.9 766.7 L814.4 766.9 L815.9 767.0 L817.4 767.1 L818.9 767.3 L820.4 767.4 L821.9 767.5 L823.4 767.6 L824.8 767.7 L826.3 767.8 L827.8 767.9 L829.3 768.0 L830.8 768.1 L832.3 768.2 L833.8 768.2 L835.3 768.3 L836.8 768.3 L838.3 768.4 L839.8 768.4 L841.3 768.4 L842.8 768.5 L844.3 768.5 L845.8 768.5 L847.2 768.4 L848.7 768.4 L850.2 768.4 L851.7 768.3 L853.2 768.2 L854.7 768.2 L856.2 768.1 L857.7 768.0 L859.2 767.8 L860.7 767.7 L862.2 767.5 L863.7 767.4 L865.2 767.2 L866.7 767.0 L868.2 766.7 L869.7 766.5 L871.2 766.2 L872.7 765.9 L874.2 765.6 L875.7 765.3 L877.2 765.0 L878.7 764.6 L880.2 764.2 L881.7 763.8 L883.2 763.4 L884.7 762.9 L886.1 762.4 L887.5 761.9 L889.0 761.3 L890.3 760.7 L891.7 760.1 L893.0 759.4 L894.3 758.7 L895.5 757.9 L896.8 757.1 L897.9 756.2 L899.0 755.3 L900.1 754.4 L901.1 753.3 L902.0 752.3 L902.9 751.1 L903.7 749.9 L904.5 748.7 L905.2 747.4 L905.8 746.0 L906.4 744.7 L907.0 743.2 L907.5 741.8 L908.0 740.4 L908.4 738.9 L908.9 737.4 L909.4 736.0 L909.8 734.5 L910.2 733.0 L910.7 731.6 L911.1 730.1 L911.5 728.7 L911.9 727.2 L912.3 725.8 L912.7 724.4 L913.1 722.9 L913.5 721.5 L913.9 720.0 L914.3 718.6 L914.7 717.1 L915.0 715.7 L915.4 714.2 L915.8 712.8 L916.2 711.4 L916.5 709.9 L916.9 708.5 L917.3 707.0 L917.6 705.6 L918.0 704.1 L918.3 702.7 L918.7 701.2 L919.0 699.7 L919.4 698.3 L919.7 696.8 L920.1 695.4 L920.4 693.9 L920.7 692.5 L921.1 691.0 L921.4 689.6 L921.8 688.1 L922.1 686.6 L922.4 685.2 L922.7 683.7 L923.1 682.2 L923.4 680.8 L923.7 679.3 L924.1 677.9 L924.4 676.4 L924.7 674.9 L925.0 673.5 L925.3 672.0 L925.7 670.5 L926.0 669.1 L926.3 667.6 L926.6 666.1 L926.9 664.7 L927.2 663.2 L927.5 661.7 L927.9 660.3 L928.2 658.8 L928.5 657.3 L928.8 655.9 L929.1 654.4 L929.4 652.9 L929.7 651.5 L930.0 650.0 L930.3 648.5 L930.6 647.0 L930.9 645.6 L931.3 644.1 L931.6 642.6 L931.9 641.2 L932.2 639.7 L932.5 638.2 L932.8 636.8 L933.1 635.3 L933.4 633.8 L933.7 632.4 L934.0 630.9 L934.3 629.4 L934.6 627.9 L934.9 626.5 L935.2 625.0 L935.5 623.5 L935.8 622.1 L936.1 620.6 L936.4 619.1 L936.7 617.7 L937.0 616.2 L937.3 614.7 L937.6 613.2 L937.9 611.8 L938.2 610.3 L938.5 608.8 L938.8 607.4 L939.1 605.9 L939.4 604.4 L939.7 603.0 L940.0 601.5 L940.3 600.0 L940.6 598.5 L940.9 597.1 L941.2 595.6 L941.5 594.1 L941.8 592.7 L942.1 591.2 L942.4 589.7 L942.6 588.2 L942.9 586.8 L943.2 585.3 L943.5 583.8 L943.8 582.3 L944.1 580.9 L944.4 579.4 L944.7 577.9 L944.9 576.5 L945.2 575.0 L945.5 573.5 L945.8 572.0 L946.1 570.6 L946.4 569.1 L946.6 567.6 L946.9 566.1 L947.2 564.7 L947.5 563.2 L947.7 561.7 L948.0 560.3 L948.3 558.8 L948.6 557.3 L948.8 555.8 L949.1 554.4 L949.4 552.9 L949.7 551.4 L949.9 549.9 L950.2 548.5 L950.5 547.0 L950.7 545.5 L951.0 544.0 L951.3 542.5 L951.5 541.1 L951.8 539.6 L952.1 538.1 L952.3 536.6 L952.6 535.2 L952.9 533.7 L953.1 532.2 L953.4 530.7 L953.6 529.3 L953.9 527.8 L954.1 526.3 L954.4 524.8 L954.6 523.3 L954.9 521.9 L955.2 520.4 L955.4 518.9 L955.7 517.4 L955.9 516.0 L956.1 514.5 L956.4 513.0 L956.6 511.5 L956.9 510.0 L957.1 508.6 L957.4 507.1 L957.6 505.6 L957.9 504.1 L958.1 502.6 L958.3 501.2 L958.6 499.7 L958.8 498.2 L959.0 496.7 L959.3 495.2 L959.5 493.7 L959.8 492.3 L960.0 490.8 L960.2 489.3 L960.5 487.8 L960.7 486.3 L960.9 484.9 L961.2 483.4 L961.4 481.9 L961.6 480.4 L961.9 478.9 L962.1 477.5 L962.3 476.0 L962.6 474.5 L962.8 473.0 L963.0 471.5 L963.3 470.0 L963.5 468.6 L963.7 467.1 L963.9 465.6 L964.2 464.1 L964.4 462.6 L964.6 461.2 L964.9 459.7 L965.1 458.2 L965.3 456.7 L965.6 455.2 L965.8 453.7 L966.1 452.3 L966.3 450.8 L966.5 449.3 L966.8 447.8 L967.0 446.3 L967.2 444.9 L967.5 443.4 L967.7 441.9 L968.0 440.4 L968.2 438.9 L968.4 437.5 L968.7 436.0 L968.9 434.5 L969.2 433.0 L969.4 431.5 L969.7 430.1 L969.9 428.6 L970.2 427.1 L970.4 425.6 L970.7 424.1 L970.9 422.7 L971.2 421.2 L971.4 419.7 L971.7 418.2 L971.9 416.8 L972.2 415.3 L972.4 413.8 L972.7 412.3 L973.0 410.9 L973.2 409.4 L973.5 407.9 L973.8 406.4 L974.0 405.0 L974.3 403.5 L974.6 402.0 L974.8 400.5 L975.1 399.1 L975.4 397.6 L975.7 396.1 L976.0 394.6 L976.2 393.2 L976.5 391.7 L976.8 390.2 L977.1 388.7 L977.4 387.3 L977.7 385.8 L978.0 384.3 L978.3 382.9 L978.6 381.4 L978.9 379.9 L979.2 378.5 L979.5 377.0 L979.8 375.5 L980.1 374.1 L980.4 372.6 L980.7 371.1 L981.0 369.7 L981.4 368.2 L981.7 366.7 L982.0 365.3 L982.3 363.8 L982.7 362.3 L983.0 360.9 L983.3 359.4 L983.7 357.9 L984.0 356.5 L984.3 355.0 L984.7 353.6 L985.0 352.1 L985.4 350.6 L985.7 349.2 L986.1 347.7 L986.5 346.3 L986.8 344.8 L987.2 343.3 L987.6 341.9 L987.9 340.4 L988.3 339.0 L988.7 337.5 L989.1 336.1 L989.5 334.6 L989.9 333.2 L990.3 331.7 L990.7 330.3 L991.1 328.8 L991.6 327.4 L992.0 326.0 L992.5 324.6 L993.0 323.1 L993.4 321.7 L993.9 320.3 L994.4 318.9 L995.0 317.5 L995.5 316.1 L996.0 314.7 L996.6 313.3 L997.2 311.9 L997.8 310.6 L998.4 309.2 L999.1 307.9 L999.7 306.5 L1000.4 305.2 L1001.1 303.8 L1001.8 302.5 L1002.5 301.2 L1003.3 299.9 L1004.1 298.6 L1004.9 297.3 L1005.7 296.0 L1006.6 294.8 L1007.5 293.5 L1008.4 292.3 L1009.3 291.0 L1010.3 289.8 L1011.3 288.7 L1012.3 287.6 L1013.4 286.6 L1014.5 285.7 L1015.7 285.0 L1016.9 284.5 L1018.2 284.1 L1019.6 283.9 L1021.0 283.9 L1022.4 284.1 L1023.8 284.5 L1025.2 285.1 L1026.6 285.8 L1027.9 286.6 L1029.1 287.6 L1030.2 288.7 L1031.3 289.8 L1032.3 291.0 L1033.3 292.2 L1034.2 293.4 L1035.0 294.7 L1035.8 296.0 L1036.6 297.3 L1037.3 298.6 L1038.1 299.9 L1038.8 301.2 L1039.5 302.5 L1040.2 303.9 L1040.9 305.2 L1041.6 306.5 L1042.2 307.9 L1042.9 309.2 L1043.5 310.6 L1044.1 311.9 L1044.8 313.3 L1045.4 314.7 L1046.0 316.1 L1046.5 317.4 L1047.1 318.8 L1047.7 320.2 L1048.2 321.6 L1048.8 323.0 L1049.3 324.4 L1049.9 325.8 L1050.4 327.1 L1050.9 328.6 L1051.4 330.0 L1051.9 331.4 L1052.4 332.8 L1052.9 334.2 L1053.4 335.6 L1053.9 337.0 L1054.4 338.4 L1054.8 339.9 L1055.3 341.3 L1055.7 342.7 L1056.2 344.1 L1056.6 345.6 L1057.0 347.0 L1057.5 348.5 L1057.9 349.9 L1058.3 351.3 L1058.7 352.8 L1059.1 354.2 L1059.5 355.7 L1059.9 357.1 L1060.3 358.6 L1060.6 360.0 L1061.0 361.5 L1061.4 362.9 L1061.7 364.4 L1062.1 365.8 L1062.5 367.3 L1062.8 368.8 L1063.2 370.2 L1063.5 371.7 L1063.8 373.1 L1064.2 374.6 L1064.5 376.1 L1064.8 377.5 L1065.1 379.0 L1065.5 380.5 L1065.8 382.0 L1066.1 383.4 L1066.4 384.9 L1066.7 386.4 L1067.0 387.8 L1067.3 389.3 L1067.6 390.8 L1067.9 392.3 L1068.2 393.7 L1068.5 395.2 L1068.8 396.7 L1069.0 398.2 L1069.3 399.6 L1069.6 401.1 L1069.9 402.6 L1070.1 404.1 L1070.4 405.5 L1070.7 407.0 L1070.9 408.5 L1071.2 410.0 L1071.5 411.4 L1071.7 412.9 L1072.0 414.4 L1072.2 415.9 L1072.5 417.4 L1072.7 418.8 L1073.0 420.3 L1073.2 421.8 L1073.4 423.3 L1073.7 424.8 L1073.9 426.2 L1074.1 427.7 L1074.4 429.2 L1074.6 430.7 L1074.8 432.2 L1075.1 433.6 L1075.3 435.1 L1075.5 436.6 L1075.7 438.1 L1075.9 439.6 L1076.1 441.1 L1076.3 442.6 L1076.5 444.0 L1076.7 445.5 L1077.0 447.0 L1077.2 448.5 L1077.3 450.0 L1077.5 451.5 L1077.7 453.0 L1077.9 454.4 L1078.1 455.9 L1078.3 457.4 L1078.5 458.9 L1078.7 460.4 L1078.9 461.9 L1079.0 463.4 L1079.2 464.9 L1079.4 466.3 L1079.6 467.8 L1079.7 469.3 L1079.9 470.8 L1080.1 472.3 L1080.2 473.8 L1080.4 475.3 L1080.6 476.8 L1080.7 478.3 L1080.9 479.8 L1081.0 481.2 L1081.2 482.7 L1081.3 484.2 L1081.5 485.7 L1081.6 487.2 L1081.8 488.7 L1081.9 490.2 L1082.1 491.7 L1082.2 493.2 L1082.3 494.7 L1082.5 496.2 L1082.6 497.7 L1082.7 499.2 L1082.9 500.7 L1083.0 502.1 L1083.1 503.6 L1083.3 505.1 L1083.4 506.6 L1083.5 508.1 L1083.6 509.6 L1083.8 511.1 L1083.9 512.6 L1084.0 514.1 L1084.1 515.6 L1084.2 517.1 L1084.3 518.6 L1084.5 520.1 L1084.6 521.6 L1084.7 523.1 L1084.8 524.6 L1084.9 526.1 L1085.0 527.6 L1085.1 529.1 L1085.2 530.6 L1085.3 532.1 L1085.4 533.6 L1085.5 535.1 L1085.6 536.6 L1085.7 538.1 L1085.8 539.6 L1085.9 541.1 L1086.0 542.5 L1086.1 544.0 L1086.1 545.5 L1086.2 547.0 L1086.3 548.5 L1086.4 550.0 L1086.5 551.5 L1086.6 553.0 L1086.7 554.5 L1086.7 556.0 L1086.8 557.5 L1086.9 559.0 L1087.0 560.5 L1087.0 562.0 L1087.1 563.5 L1087.2 565.0 L1087.3 566.5 L1087.3 568.0 L1087.4 569.5 L1087.5 571.0 L1087.5 572.5 L1087.6 574.0 L1087.7 575.5 L1087.7 577.0 L1087.8 578.5 L1087.9 580.0 L1087.9 581.5 L1088.0 583.0 L1088.0 584.5 L1088.1 586.0 L1088.2 587.5 L1088.2 589.0 L1088.3 590.5 L1088.3 592.0 L1088.4 593.5 L1088.4 595.0 L1088.5 596.5 L1088.5 598.0 L1088.6 599.5 L1088.6 601.0 L1088.7 602.5 L1088.7 604.0 L1088.8 605.5 L1088.8 607.0 L1088.8 608.5 L1088.9 610.0 L1088.9 611.5 L1089.0 613.0 L1089.0 614.5 L1089.0 616.0 L1089.1 617.5 L1089.1 619.0 L1089.1 620.5 L1089.2 622.0 L1089.2 623.5 L1089.2 625.0 L1089.3 626.5 L1089.3 627.9 L1089.3 629.4 L1089.4 630.9 L1089.4 632.4 L1089.4 633.9 L1089.4 635.4 L1089.5 636.9 L1089.5 638.4 L1089.6 639.9 L1089.6 641.4 L1089.7 642.9 L1089.7 644.4 L1089.8 645.9 L1089.9 647.4 L1090.0 648.9 L1090.1 650.4 L1090.3 651.9 L1090.4 653.4 L1090.6 654.9 L1090.7 656.4 L1090.9 657.9 L1091.2 659.4 L1091.4 660.9 L1091.7 662.4 L1092.0 663.9 L1092.3 665.4 L1092.7 666.9 L1093.1 668.4 L1093.5 669.8 L1094.0 671.3 L1094.5 672.6 L1095.2 674.0 L1095.8 675.3 L1096.6 676.6 L1097.4 677.8 L1098.2 678.9 L1099.2 680.0 L1100.2 681.1 L1101.3 682.1 L1102.4 683.0 L1103.6 683.9 L1104.9 684.7 L1106.2 685.5 L1107.5 686.2 L1108.8 687.0 L1110.2 687.6 L1111.5 688.3 L1112.9 688.9 L1114.3 689.5 L1115.7 690.0 L1117.2 690.5 L1118.6 691.0 L1120.0 691.4 L1121.5 691.9 L1122.9 692.2 L1124.4 692.6 L1125.9 692.9 L1127.3 693.2 L1128.8 693.5 L1130.3 693.7 L1131.8 693.9 L1133.3 694.0 L1134.8 694.2 L1136.3 694.3 L1137.8 694.4 L1139.3 694.4 L1140.8 694.4 L1142.3 694.5 L1143.8 694.5 L1145.3 694.4 L1146.8 694.4 L1148.3 694.4 L1149.8 694.3 L1151.3 694.3 L1152.8 694.2 L1154.3 694.2 L1155.8 694.1 L1157.3 694.1 L1158.8 694.0 L1160.3 694.0 L1161.8 694.0 L1163.3 694.0 L1164.8 694.0 L1166.3 694.0 L1167.8 694.1 L1169.3 694.1 L1170.8 694.2 L1172.3 694.3 L1173.8 694.4 L1175.2 694.6 L1176.7 694.7 L1178.2 694.9 L1179.7 695.1 L1181.2 695.3 L1182.7 695.5 L1184.1 695.7 L1185.6 695.9 L1187.1 696.2 L1188.6 696.4 L1190.0 696.7 L1191.5 696.9 L1193.0 697.2 L1194.4 697.5 L1195.9 697.8 L1197.4 698.1 L1198.8 698.4 L1200.3 698.7 L1201.8 699.0 L1203.2 699.3 L1204.7 699.6 L1206.2 700.0 L1207.6 700.3 L1209.1 700.6 L1210.5 701.0 L1212.0 701.3 L1213.5 701.7 L1214.9 702.0 L1216.4 702.4 L1217.8 702.8 L1219.3 703.1 L1220.7 703.5 L1222.2 703.9 L1223.6 704.3 L1225.1 704.6 L1226.6 705.0 L1228.0 705.4 L1229.5 705.8 L1230.9 706.2 L1232.4 706.6 L1233.8 707.0 L1235.3 707.3 L1236.7 707.7 L1238.2 708.1 L1239.6 708.5 L1241.0 708.9 L1242.5 709.3 L1243.9 709.7 L1245.4 710.1 L1246.8 710.5 L1248.3 710.9 L1249.7 711.3 L1251.2 711.7 L1252.6 712.1 L1254.1 712.5 L1255.5 712.9 L1257.0 713.3 L1258.4 713.7 L1259.9 714.1 L1261.3 714.5 L1262.8 714.9 L1264.2 715.3 L1265.7 715.7 L1267.1 716.1 L1268.6 716.5 L1270.0 716.9 L1271.4 717.3 L1272.9 717.6 L1274.3 718.0 L1275.8 718.4 L1277.2 718.8 L1278.7 719.2 L1280.1 719.6 L1281.6 719.9 L1283.0 720.3 L1284.5 720.7 L1285.9 721.1 L1287.4 721.4 L1288.8 721.8 L1290.3 722.2 L1291.7 722.6 L1293.2 722.9 L1294.7 723.3 L1296.1 723.7 L1297.6 724.0 L1299.0 724.4 L1300.5 724.8 L1301.9 725.1 L1303.4 725.5 L1304.8 725.8 L1306.3 726.2 L1307.7 726.6 L1309.2 726.9 L1310.7 727.3 L1312.1 727.6 L1313.6 728.0 L1315.0 728.3 L1316.5 728.7 L1318.0 729.0 L1319.4 729.4 L1320.9 729.7 L1322.3 730.0 L1323.8 730.4 L1325.3 730.7 L1326.7 731.1 L1328.2 731.4 L1329.7 731.7 L1331.1 732.1 L1332.6 732.4 L1334.1 732.7 L1335.5 733.0 L1337.0 733.3 L1338.5 733.7 L1339.9 734.0 L1341.4 734.3 L1342.9 734.6 L1344.3 734.9 L1345.8 735.2 L1347.3 735.5 L1348.8 735.8 L1350.2 736.1 L1351.7 736.3 L1353.2 736.6 L1354.7 736.9 L1356.1 737.2 L1357.6 737.4 L1359.1 737.7 L1360.6 737.9 L1362.0 738.2 L1363.5 738.4 L1365.0 738.7 L1366.5 738.9 L1368.0 739.1 L1369.4 739.4 L1370.9 739.6 L1372.4 739.8 L1373.9 740.0 L1375.4 740.2 L1376.9 740.4 L1378.3 740.6 L1379.8 740.8 L1381.3 740.9 L1382.8 741.1 L1384.3 741.3 L1385.8 741.4 L1387.3 741.6 L1388.8 741.7 L1390.2 741.9 L1391.7 742.0 L1393.2 742.1 L1394.7 742.3 L1396.2 742.4 L1397.7 742.5 L1399.2 742.6 L1400.7 742.7 L1402.2 742.8 L1403.7 742.9 L1405.2 743.0 L1406.7 743.1 L1408.2 743.1 L1409.7 743.2 L1411.2 743.3 L1412.7 743.4 L1414.1 743.4 L1415.6 743.5 L1417.1 743.5 L1418.6 743.6 L1420.1 743.6 L1421.6 743.6 L1423.1 743.7 L1424.6 743.7 L1426.1 743.7 L1427.6 743.8 L1429.1 743.8 L1430.6 743.8 L1432.1 743.8 L1433.6 743.8 L1435.1 743.8 L1436.6 743.8 L1438.1 743.8 L1439.6 743.8 L1441.1 743.8 L1442.6 743.8 L1444.1 743.8 L1445.6 743.7 L1447.2 743.7 L1448.7 743.7 L1450.2 743.7 L1451.7 743.6 L1453.2 743.6 L1454.7 743.6 L1456.2 743.5 L1457.7 743.5 L1459.2 743.4 L1460.7 743.4 L1462.2 743.3 L1463.7 743.3 L1465.2 743.2 L1466.7 743.2 L1468.2 743.1 L1469.7 743.0 L1471.2 743.0 L1472.7 742.9 L1474.2 742.9 L1475.7 742.8 L1477.2 742.7 L1478.7 742.6 L1480.2 742.6 L1481.7 742.5 L1483.2 742.4 L1484.7 742.3 L1486.2 742.3 L1487.7 742.2 L1489.2 742.1 L1490.7 742.0 L1492.2 741.9 L1493.7 741.9 L1495.2 741.8 L1496.7 741.7 L1498.2 741.6 L1499.7 741.5 L1501.2 741.4 L1502.7 741.3 L1504.2 741.2 L1505.7 741.1 L1507.2 741.0 L1508.7 740.9 L1510.2 740.8 L1511.7 740.7 L1513.2 740.6 L1514.7 740.5 L1516.2 740.4 L1517.7 740.3 L1519.2 740.2 L1520.7 740.1 L1522.1 740.0 L1523.6 739.9 L1525.1 739.8 L1526.6 739.7 L1528.1 739.5 L1529.6 739.4 L1531.1 739.3 L1532.6 739.2 L1534.1 739.1 L1535.6 739.0 L1537.1 738.8 L1538.6 738.7 L1540.1 738.6 L1541.6 738.5 L1543.1 738.4 L1544.6 738.2 L1546.1 738.1 L1547.6 738.0 L1549.1 737.9 L1550.6 737.7 L1552.1 737.6 L1553.5 737.5 L1555.0 737.3 L1556.5 737.2 L1558.0 737.1 L1559.5 736.9 L1561.0 736.8 L1562.5 736.7 L1564.0 736.5 L1565.5 736.4 L1567.0 736.3 L1568.5 736.1 L1570.0 736.0 L1571.5 735.8 L1573.0 735.7 L1574.4 735.6 L1575.9 735.4 L1577.4 735.3 L1578.9 735.1 L1580.4 735.0 L1581.9 734.8 L1583.4 734.7 L1584.9 734.5 L1586.4 734.4 L1587.9 734.2 L1589.4 734.1 L1590.9 733.9 L1592.4 733.8 L1593.8 733.6 L1595.3 733.5 L1596.8 733.3 L1598.3 733.2 L1599.8 733.0 L1601.3 732.9 L1602.8 732.7 L1604.3 732.6 L1605.8 732.4 L1607.3 732.3 L1608.8 732.1 L1610.2 732.0 L1611.7 731.8 L1613.2 731.6 L1614.7 731.5 L1616.2 731.3 L1617.7 731.2 L1619.2 731.0 L1620.7 730.9 L1622.2 730.7 L1623.7 730.5 L1625.2 730.4 L1626.6 730.2 L1628.1 730.1 L1629.6 729.9 L1631.1 729.7 L1632.6 729.6 L1634.1 729.4 L1635.6 729.2 L1637.1 729.1 L1638.6 728.9 L1640.1 728.8 L1641.5 728.6 L1643.0 728.4 L1644.5 728.3 L1646.0 728.1 L1647.5 727.9 L1649.0 727.8 L1650.5 727.6 L1652.0 727.4 L1653.5 727.3 L1655.0 727.1 L1656.5 726.9 L1657.9 726.8 L1659.4 726.6 L1660.9 726.4 L1662.4 726.3 L1663.9 726.1 L1665.4 725.9 L1666.9 725.8 L1668.4 725.6 L1669.9 725.4 L1671.4 725.3 L1672.8 725.1 L1674.3 724.9 L1675.8 724.8 L1677.3 724.6 L1678.8 724.4 L1680.3 724.3 L1681.8 724.1 L1683.3 723.9 L1684.8 723.8 L1686.3 723.6 L1687.7 723.4 L1689.2 723.2 L1690.7 723.1 L1692.2 722.9 L1693.7 722.7 L1695.2 722.6 L1696.7 722.4 L1698.2 722.2 L1699.7 722.0 L1701.2 721.9 L1702.6 721.7 L1704.1 721.5 L1705.6 721.3 L1707.1 721.2 L1708.6 721.0 L1710.1 720.8 L1711.6 720.6 L1713.1 720.5 L1714.6 720.3 L1716.0 720.1 L1717.5 719.9 L1719.0 719.8 L1720.5 719.6 L1722.0 719.4 L1723.5 719.2 L1725.0 719.1 L1726.5 718.9 L1728.0 718.7 L1729.5 718.5 L1730.9 718.3 L1732.4 718.2 L1733.9 718.0 L1735.4 717.8 L1736.9 717.6 L1738.4 717.5 L1739.9 717.3 L1741.4 717.1 L1742.9 716.9 L1744.3 716.7 L1745.8 716.5 L1747.3 716.4 L1748.8 716.2 L1750.3 716.0 L1751.8 715.8 L1753.3 715.6 L1754.8 715.5 L1756.3 715.3 L1757.7 715.1 L1759.2 714.9 L1760.7 714.7 L1762.2 714.5 L1763.7 714.4 L1765.2 714.2 L1766.7 714.0 L1768.2 713.8 L1769.7 713.6 L1771.1 713.4 L1772.6 713.2 L1774.1 713.0 L1775.6 712.9 L1777.1 712.7 L1778.6 712.5 L1780.1 712.3 L1781.6 712.1 L1783.1 711.9 L1784.5 711.7 L1786.0 711.5 L1787.5 711.4 L1789.0 711.2 L1790.5 711.0 L1792.0 710.8 L1793.5 710.6 L1795.0 710.4 L1796.4 710.2 L1797.9 710.0 L1799.4 709.8 L1800.9 709.6 L1802.4 709.4 L1803.9 709.2 L1805.4 709.1 L1806.9 708.9 L1808.3 708.7 L1809.8 708.5 L1811.3 708.3 L1812.8 708.1 L1814.3 707.9 L1815.8 707.7 L1817.3 707.5 L1818.8 707.3 L1820.2 707.1 L1821.7 706.9 L1823.2 706.7 L1824.7 706.5 L1826.2 706.3 L1827.7 706.1 L1829.2 705.9 L1830.7 705.7 L1832.1 705.5 L1833.6 705.3 L1835.1 705.1 L1836.6 704.9 L1838.1 704.7 L1839.6 704.5 L1841.1 704.3 L1842.6 704.1 L1844.0 703.9 L1845.5 703.7 L1847.0 703.5 L1848.5 703.3 L1850.0 703.1 L1851.5 702.9 L1853.0 702.7 L1854.5 702.5 L1855.9 702.3 L1857.4 702.1 L1858.9 701.9 L1860.4 701.7 L1861.9 701.5 L1863.4 701.2 L1864.9 701.0 L1866.3 700.8 L1867.8 700.6 L1869.3 700.4 L1870.8 700.2 L1872.3 700.0 L1873.8 699.8 L1875.3 699.6 L1876.7 699.4 L1878.2 699.2 L1879.7 699.0 L1881.2 698.7 L1882.7 698.5 L1884.2 698.3 L1885.7 698.1 L1887.1 697.9 L1888.6 697.7 L1890.1 697.5 L1891.6 697.3 L1893.1 697.1 L1894.6 696.9 L1896.1 696.7 L1897.5 696.5 L1899.0 696.2 L1900.5 696.0 L1902.0 695.8 L1903.5 695.6 L1905.0 695.4 L1906.5 695.2 L1908.0 695.0 L1909.4 694.8 L1910.9 694.6 L1912.4 694.4 L1913.9 694.2 L1915.4 694.0 L1916.9 693.8 L1918.4 693.6 L1919.8 693.4 L1921.3 693.2 L1922.8 693.0 L1924.3 692.8 L1925.8 692.6 L1927.3 692.4 L1928.8 692.2 L1930.3 692.0 L1931.7 691.8 L1933.2 691.6 L1934.7 691.4 L1936.2 691.2 L1937.7 691.0 L1939.2 690.9 L1940.7 690.7 L1942.1 690.5 L1943.6 690.3 L1945.1 690.1 L1946.6 689.9 L1948.1 689.7 L1949.6 689.5 L1951.1 689.4 L1952.6 689.2 L1954.1 689.0 L1955.5 688.8 L1957.0 688.6 L1958.5 688.5 L1960.0 688.3 L1961.5 688.1 L1963.0 688.0 L1964.5 687.8 L1966.0 687.6 L1967.5 687.4 L1968.9 687.3 L1970.4 687.1 L1971.9 686.9 L1973.4 686.8 L1974.9 686.6 L1976.4 686.5 L1977.9 686.3 L1979.4 686.2 L1980.9 686.0 L1982.4 685.8 L1983.8 685.7 L1985.3 685.5 L1986.8 685.4 L1988.3 685.3 L1989.8 685.1 L1991.3 685.0 L1992.8 684.8 L1994.3 684.7 L1995.8 684.5 L1997.3 684.4 L1998.8 684.3 L2000.3 684.2 L2001.8 684.0 L2003.2 683.9 L2004.7 683.8 L2006.2 683.6 L2007.7 683.5 L2009.2 683.4 L2010.7 683.3 L2012.2 683.2 L2013.7 683.1 L2015.2 683.0 L2016.7 682.8 L2018.2 682.7 L2019.7 682.6 L2021.2 682.5 L2022.7 682.4 L2024.2 682.3 L2025.7 682.2 L2027.2 682.2 L2028.7 682.1 L2030.2 682.0 L2031.7 681.9 L2033.2 681.8 L2034.7 681.7 L2036.2 681.7 L2037.7 681.6 L2039.1 681.5 L2040.6 681.4 L2042.1 681.4 L2043.6 681.3 L2045.1 681.2 L2046.6 681.2 L2048.1 681.1 L2049.6 681.1 L2051.1 681.0 L2052.6 681.0 L2054.1 680.9 L2055.6 680.9 L2057.2 680.9 L2058.7 680.8 L2060.2 680.8 L2061.7 680.8 L2063.2 680.7 L2064.7 680.7 L2066.2 680.7 L2067.7 680.7 L2069.2 680.6 L2070.7 680.6 L2072.2 680.6 L2073.7 680.6 L2075.2 680.7 L2076.7 680.7 L2078.2 680.7 L2079.7 680.8 L2081.2 680.9 L2082.7 681.1 L2084.1 681.2 L2085.6 681.5 L2087.1 681.7 L2088.5 682.0 L2090.0 682.3 L2091.4 682.7 L2092.9 683.1 L2094.3 683.6 L2095.8 684.0 L2097.2 684.4 L2098.7 684.8 L2100.1 685.1 L2101.6 685.3 L2103.1 685.5 L2104.6 685.7 L2106.0 685.7 L2107.5 685.7 L2109.0 685.6 L2110.5 685.5 L2111.9 685.3 L2113.4 685.0 L2114.9 684.7 L2116.3 684.4 L2117.8 684.0 L2119.2 683.6 L2120.7 683.2 L2122.2 682.8 L2123.6 682.4 L2125.1 682.0 L2126.5 681.6 L2128.0 681.2 L2129.4 680.8 L2130.9 680.5 L2132.4 680.1 L2133.8 679.7 L2135.3 679.3 L2136.7 679.0 L2138.2 678.6 L2139.7 678.2 L2141.1 677.9 L2142.6 677.5 L2144.0 677.2 L2145.5 676.8 L2147.0 676.5 L2148.4 676.1 L2149.9 675.8 L2151.3 675.5 L2152.8 675.2 L2154.3 674.9 L2155.7 674.5 L2157.2 674.2 L2158.7 673.9 L2160.1 673.6 L2161.6 673.3 L2163.1 673.0 L2164.6 672.8 L2166.0 672.5 L2167.5 672.2 L2169.0 671.9 L2170.4 671.7 L2171.9 671.4 L2173.4 671.1 L2174.9 670.9 L2176.3 670.6 L2177.8 670.4 L2179.3 670.2 L2180.8 669.9 L2182.3 669.7 L2183.7 669.5 L2185.2 669.3 L2186.7 669.0 L2188.2 668.8 L2189.7 668.6 L2191.1 668.4 L2192.6 668.3 L2194.1 668.1 L2195.6 667.9 L2197.1 667.7 L2198.6 667.5 L2200.1 667.4 L2201.6 667.2 L2203.1 667.1 L2204.6 666.9 L2206.0 666.8 L2207.5 666.7 L2209.0 666.5 L2210.5 666.4 L2212.0 666.3 L2213.5 666.2 L2215.0 666.1 L2216.5 666.0 L2218.0 665.9 L2219.6 665.8 L2221.1 665.7 L2222.6 665.6 L2224.1 665.6 L2225.6 665.5 L2226.8 665.5" fill="none" stroke="#05a55a" stroke-width="4.90" stroke-linejoin="round" stroke-linecap="butt"/>
<path d="M286.9 70.5H339.4" stroke="#ff2713" stroke-width="4.9"/>
<path d="M290.2 164.6H342.6" stroke="#05a55a" stroke-width="4.9"/>
<text transform="scale(1 1.0200)" fill="#0c0e0c" stroke="#0c0e0c" stroke-linejoin="round"><tspan x="354.38" y="89.22" font-size="70.00" stroke-width="0.60">200 kHz for </tspan><tspan x="737.35" y="89.22" font-size="70.00" stroke-width="0.60" font-style="italic">V</tspan><tspan x="784.42" y="102.84" font-size="35.00" stroke-width="0.30" font-style="italic">R</tspan><tspan x="809.43" y="89.22" font-size="70.00" stroke-width="0.60"> = -1.8 V, </tspan><tspan x="1110.75" y="89.22" font-size="70.00" stroke-width="0.60" font-style="italic">V</tspan><tspan x="1156.87" y="102.84" font-size="35.00" stroke-width="0.30" font-style="italic">p</tspan><tspan x="1175.43" y="89.22" font-size="70.00" stroke-width="0.60"> = -0.4 V, </tspan><tspan x="1475.46" y="89.22" font-size="70.00" stroke-width="0.60">RW = 17 s</tspan><tspan x="1806.74" y="53.53" font-size="35.00" stroke-width="0.30">-1</tspan><tspan x="1837.31" y="89.22" font-size="70.00" stroke-width="0.60">, </tspan><tspan x="1877.82" y="89.22" font-size="70.00" stroke-width="0.60" font-style="italic">t</tspan><tspan x="1897.47" y="102.84" font-size="35.00" stroke-width="0.30" font-style="italic">p</tspan><tspan x="1915.83" y="89.22" font-size="70.00" stroke-width="0.60"> = 10 ms</tspan></text>
<text transform="scale(1 1.0200)" fill="#0c0e0c" stroke="#0c0e0c" stroke-linejoin="round"><tspan x="355.88" y="176.08" font-size="70.00" stroke-width="0.60">200 kHz for </tspan><tspan x="738.85" y="176.08" font-size="70.00" stroke-width="0.60" font-style="italic">V</tspan><tspan x="785.92" y="189.71" font-size="35.00" stroke-width="0.30" font-style="italic">R</tspan><tspan x="810.93" y="176.08" font-size="70.00" stroke-width="0.60"> = -1.8 V, </tspan><tspan x="1112.25" y="176.08" font-size="70.00" stroke-width="0.60" font-style="italic">V</tspan><tspan x="1158.37" y="189.71" font-size="35.00" stroke-width="0.30" font-style="italic">p</tspan><tspan x="1176.93" y="176.08" font-size="70.00" stroke-width="0.60"> = 0.4 V, </tspan><tspan x="1453.66" y="176.08" font-size="70.00" stroke-width="0.60">RW = 17 s</tspan><tspan x="1784.94" y="140.39" font-size="35.00" stroke-width="0.30">-1</tspan><tspan x="1815.51" y="176.08" font-size="70.00" stroke-width="0.60">, </tspan><tspan x="1856.02" y="176.08" font-size="70.00" stroke-width="0.60" font-style="italic">t</tspan><tspan x="1875.67" y="189.71" font-size="35.00" stroke-width="0.30" font-style="italic">p</tspan><tspan x="1894.03" y="176.08" font-size="70.00" stroke-width="0.60"> = 10 ms</tspan></text>
<text transform="translate(301.61 1525.80) scale(1.0000 1.0200)" font-size="70.00" fill="#0c0e0c" stroke="#0c0e0c" stroke-width="0.60" stroke-linejoin="round">60</text>
<text transform="translate(449.17 1525.60) scale(1.0000 1.0200)" font-size="70.00" fill="#0c0e0c" stroke="#0c0e0c" stroke-width="0.60" stroke-linejoin="round">80</text>
<text transform="translate(598.96 1524.90) scale(1.0000 1.0200)" font-size="70.00" fill="#0c0e0c" stroke="#0c0e0c" stroke-width="0.60" stroke-linejoin="round">100</text>
<text transform="translate(751.51 1524.60) scale(1.0000 1.0200)" font-size="70.00" fill="#0c0e0c" stroke="#0c0e0c" stroke-width="0.60" stroke-linejoin="round">120</text>
<text transform="translate(908.96 1523.80) scale(1.0000 1.0200)" font-size="70.00" fill="#0c0e0c" stroke="#0c0e0c" stroke-width="0.60" stroke-linejoin="round">140</text>
<text transform="translate(1059.01 1523.70) scale(1.0000 1.0200)" font-size="70.00" fill="#0c0e0c" stroke="#0c0e0c" stroke-width="0.60" stroke-linejoin="round">160</text>
<text transform="translate(1214.81 1523.60) scale(1.0000 1.0200)" font-size="70.00" fill="#0c0e0c" stroke="#0c0e0c" stroke-width="0.60" stroke-linejoin="round">180</text>
<text transform="translate(1375.81 1523.40) scale(1.0000 1.0200)" font-size="70.00" fill="#0c0e0c" stroke="#0c0e0c" stroke-width="0.60" stroke-linejoin="round">200</text>
<text transform="translate(1525.91 1523.00) scale(1.0000 1.0200)" font-size="70.00" fill="#0c0e0c" stroke="#0c0e0c" stroke-width="0.60" stroke-linejoin="round">220</text>
<text transform="translate(1685.16 1523.00) scale(1.0000 1.0200)" font-size="70.00" fill="#0c0e0c" stroke="#0c0e0c" stroke-width="0.60" stroke-linejoin="round">240</text>
<text transform="translate(1841.91 1523.00) scale(1.0000 1.0200)" font-size="70.00" fill="#0c0e0c" stroke="#0c0e0c" stroke-width="0.60" stroke-linejoin="round">260</text>
<text transform="translate(1993.16 1523.00) scale(1.0000 1.0200)" font-size="70.00" fill="#0c0e0c" stroke="#0c0e0c" stroke-width="0.60" stroke-linejoin="round">280</text>
<text transform="translate(2154.14 1522.60) scale(1.0000 1.0200)" font-size="70.00" fill="#0c0e0c" stroke="#0c0e0c" stroke-width="0.60" stroke-linejoin="round">300</text>
<text transform="translate(156.52 233.70) scale(1.0000 1.0200)" font-size="70.00" fill="#0c0e0c" stroke="#0c0e0c" stroke-width="0.60" stroke-linejoin="round">0.6</text>
<text transform="translate(160.40 389.40) scale(1.0000 1.0200)" font-size="70.00" fill="#0c0e0c" stroke="#0c0e0c" stroke-width="0.60" stroke-linejoin="round">0.4</text>
<text transform="translate(152.49 543.70) scale(1.0000 1.0200)" font-size="70.00" fill="#0c0e0c" stroke="#0c0e0c" stroke-width="0.60" stroke-linejoin="round">0.2</text>
<text transform="translate(203.03 704.00) scale(1.0000 1.0200)" font-size="70.00" fill="#0c0e0c" stroke="#0c0e0c" stroke-width="0.60" stroke-linejoin="round">0</text>
<text transform="translate(138.90 855.40) scale(1.0000 1.0200)" font-size="70.00" fill="#0c0e0c" stroke="#0c0e0c" stroke-width="0.60" stroke-linejoin="round">-0.2</text>
<text transform="translate(140.36 1008.20) scale(1.0000 1.0200)" font-size="70.00" fill="#0c0e0c" stroke="#0c0e0c" stroke-width="0.60" stroke-linejoin="round">-0.4</text>
<text transform="translate(134.27 1160.00) scale(1.0000 1.0200)" font-size="70.00" fill="#0c0e0c" stroke="#0c0e0c" stroke-width="0.60" stroke-linejoin="round">-0.6</text>
<text transform="translate(137.91 1318.90) scale(1.0000 1.0200)" font-size="70.00" fill="#0c0e0c" stroke="#0c0e0c" stroke-width="0.60" stroke-linejoin="round">-0.8</text>
<text transform="translate(182.79 1474.20) scale(1.0000 1.0200)" font-size="70.00" fill="#0c0e0c" stroke="#0c0e0c" stroke-width="0.60" stroke-linejoin="round">-1</text>
<text transform="translate(962.78 1620.00) scale(1.0000 1.0200)" font-size="83.00" fill="#0c0e0c" stroke="#0c0e0c" stroke-width="0.71" stroke-linejoin="round">Temperature [K]</text>
<text transform="translate(105.30 1109.74) rotate(-90) scale(1 1.0200)" font-size="83.20" fill="#0c0e0c" stroke="#0c0e0c" stroke-width="0.71" stroke-linejoin="round" style="font-kerning:none">DLTS signal [a.u]</text>
<text y="1744.3" font-size="80" font-family="'Liberation Serif', serif" fill="#0c0e0c"><tspan x="1111.48">(</tspan><tspan x="1135.97" font-weight="bold">a</tspan><tspan x="1173.58">)</tspan></text>
<text transform="translate(386.79 1172.90) scale(1.0450 1.0450)" font-size="70.00" font-weight="bold" fill="#0c0e0c">A</text>
<text transform="translate(786.97 1282.60) scale(1.0000 1.0450)" font-size="70.00" font-weight="bold" fill="#0c0e0c">B</text>
<text transform="translate(925.70 1158.00) scale(1.0000 1.0450)" font-size="70.00" font-weight="bold" fill="#0c0e0c">C</text>
<text transform="translate(1199.55 316.60) scale(1.0000 1.0450)" font-size="70.00" font-weight="bold" fill="#0c0e0c">D</text>
<text transform="translate(1291.43 1262.60) scale(1.0000 1.0450)" font-size="70.00" font-weight="bold" fill="#0c0e0c">E</text>
<text transform="translate(1518.41 1173.30) scale(1.0000 1.0450)" font-size="70.00" font-weight="bold" fill="#0c0e0c">F</text>
<text transform="translate(1880.71 1396.80) scale(1.0000 1.0450)" font-size="70.00" font-weight="bold" fill="#0c0e0c">G</text>
<text transform="translate(2111.39 1005.80) scale(1.0000 1.0450)" font-size="70.00" font-weight="bold" fill="#0c0e0c">H</text>
<path d="M411.0 1104.1L430.4 967.8M409.3 989.9L430.4 967.8L444.0 996.4" fill="none" stroke="#41259f" stroke-width="6.0" stroke-miterlimit="10" stroke-linejoin="miter"/>
<path d="M782.8 1249.7L684.4 1152.2M715.4 1158.5L684.4 1152.2L690.6 1183.3" fill="none" stroke="#41259f" stroke-width="6.0" stroke-miterlimit="10" stroke-linejoin="miter"/>
<path d="M920.3 1114.8L817.3 1017.1M848.3 1023.0L817.3 1017.1L824.0 1047.8" fill="none" stroke="#41259f" stroke-width="6.0" stroke-miterlimit="10" stroke-linejoin="miter"/>
<path d="M1178.2 293.6L1108.1 402.2M1108.7 371.1L1108.1 402.2L1138.3 389.2" fill="none" stroke="#05a55a" stroke-width="6.0" stroke-miterlimit="10" stroke-linejoin="miter"/>
<path d="M1314.3 1209.7L1405.8 1107.4M1375.3 1114.8L1405.8 1107.4L1401.4 1138.4" fill="none" stroke="#41259f" stroke-width="6.0" stroke-miterlimit="10" stroke-linejoin="miter"/>
<path d="M1539.7 1105.8L1558.0 1012.9M1536.0 1035.3L1558.0 1012.9L1570.1 1042.0" fill="none" stroke="#41259f" stroke-width="6.0" stroke-miterlimit="10" stroke-linejoin="miter"/>
<path d="M1870.7 1373.2L1767.3 1275.3M1798.6 1281.6L1767.3 1275.3L1774.2 1306.3" fill="none" stroke="#41259f" stroke-width="6.0" stroke-miterlimit="10" stroke-linejoin="miter"/>
<path d="M2141.5 935.8L2038.1 836.8M2069.2 842.9L2038.1 836.8L2045.5 867.4" fill="none" stroke="#41259f" stroke-width="6.0" stroke-miterlimit="10" stroke-linejoin="miter"/>
</svg></body></html>
